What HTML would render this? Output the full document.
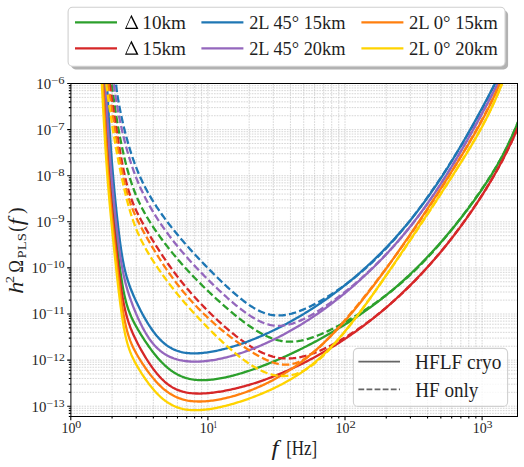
<!DOCTYPE html><html><head><meta charset="utf-8"><style>html,body{margin:0;padding:0;background:#fff;width:524px;height:467px;overflow:hidden}svg{display:block}text{font-family:"Liberation Serif",serif;fill:#1e1e1e}</style></head><body>
<svg width="524" height="467" viewBox="0 0 524 467">
<rect width="524" height="467" fill="#fff"/>
<path d="M112.07,83.50V416.50M136.21,83.50V416.50M153.34,83.50V416.50M166.63,83.50V416.50M177.48,83.50V416.50M186.66,83.50V416.50M194.61,83.50V416.50M201.63,83.50V416.50M207.90,83.50V416.50M249.17,83.50V416.50M273.31,83.50V416.50M290.44,83.50V416.50M303.73,83.50V416.50M314.58,83.50V416.50M323.76,83.50V416.50M331.71,83.50V416.50M338.73,83.50V416.50M345.00,83.50V416.50M386.27,83.50V416.50M410.41,83.50V416.50M427.54,83.50V416.50M440.83,83.50V416.50M451.68,83.50V416.50M460.86,83.50V416.50M468.81,83.50V416.50M475.83,83.50V416.50M482.10,83.50V416.50M70.90,416.43H517.50M70.90,413.34H517.50M70.90,410.67H517.50M70.90,408.31H517.50M70.90,406.20H517.50M70.90,392.32H517.50M70.90,384.20H517.50M70.90,378.45H517.50M70.90,373.98H517.50M70.90,370.33H517.50M70.90,367.24H517.50M70.90,364.57H517.50M70.90,362.21H517.50M70.90,360.10H517.50M70.90,346.22H517.50M70.90,338.10H517.50M70.90,332.35H517.50M70.90,327.88H517.50M70.90,324.23H517.50M70.90,321.14H517.50M70.90,318.47H517.50M70.90,316.11H517.50M70.90,314.00H517.50M70.90,300.12H517.50M70.90,292.00H517.50M70.90,286.25H517.50M70.90,281.78H517.50M70.90,278.13H517.50M70.90,275.04H517.50M70.90,272.37H517.50M70.90,270.01H517.50M70.90,267.90H517.50M70.90,254.02H517.50M70.90,245.90H517.50M70.90,240.15H517.50M70.90,235.68H517.50M70.90,232.03H517.50M70.90,228.94H517.50M70.90,226.27H517.50M70.90,223.91H517.50M70.90,221.80H517.50M70.90,207.92H517.50M70.90,199.80H517.50M70.90,194.05H517.50M70.90,189.58H517.50M70.90,185.93H517.50M70.90,182.84H517.50M70.90,180.17H517.50M70.90,177.81H517.50M70.90,175.70H517.50M70.90,161.82H517.50M70.90,153.70H517.50M70.90,147.95H517.50M70.90,143.48H517.50M70.90,139.83H517.50M70.90,136.74H517.50M70.90,134.07H517.50M70.90,131.71H517.50M70.90,129.60H517.50M70.90,115.72H517.50M70.90,107.60H517.50M70.90,101.85H517.50M70.90,97.38H517.50M70.90,93.73H517.50M70.90,90.64H517.50M70.90,87.97H517.50M70.90,85.61H517.50" stroke="#b4b4b4" stroke-width="0.55" stroke-dasharray="1.6,1.1" fill="none"/>
<g fill="none" stroke-width="2.3" stroke-linecap="butt" stroke-linejoin="round" clip-path="url(#ax)">
<defs><clipPath id="ax"><rect x="70.90" y="83.50" width="446.60" height="333.00"/></clipPath></defs>
<path d="M103.65,75.69 L103.80,78.44 L103.95,81.18 L104.09,83.90 L104.24,86.61 L104.38,89.31 L104.53,91.98 L104.68,94.64 L104.82,97.29 L104.97,99.91 L105.12,102.51 L105.26,105.10 L105.41,107.66 L105.56,110.20 L105.70,112.71 L105.85,115.20 L105.99,117.67 L106.14,120.11 L106.29,122.53 L106.43,124.92 L106.58,127.29 L106.73,129.62 L106.87,131.93 L107.02,134.21 L107.16,136.46 L107.31,138.69 L107.46,140.88 L107.60,143.05 L107.75,145.18 L107.90,147.29 L108.04,149.37 L108.19,151.42 L108.33,153.45 L108.48,155.44 L108.63,157.41 L108.77,159.36 L108.92,161.27 L109.07,163.16 L109.21,165.03 L109.36,166.87 L109.50,168.69 L109.65,170.49 L109.80,172.26 L109.94,174.02 L110.09,175.75 L110.24,177.47 L110.38,179.16 L110.53,180.84 L110.68,182.50 L110.82,184.14 L110.97,185.77 L111.11,187.38 L111.26,188.98 L111.41,190.56 L111.55,192.13 L111.70,193.69 L111.85,195.24 L111.99,196.77 L112.14,198.30 L112.28,199.81 L112.43,201.31 L112.58,202.80 L112.72,204.29 L112.87,205.76 L113.02,207.23 L113.16,208.69 L113.31,210.13 L113.45,211.58 L113.60,213.01 L113.75,214.44 L113.89,215.85 L114.04,217.27 L114.33,220.07 L114.62,222.85 L114.92,225.60 L115.21,228.32 L115.50,231.02 L115.80,233.69 L116.09,236.33 L116.38,238.95 L116.67,241.54 L116.97,244.10 L117.26,246.63 L117.55,249.12 L117.84,251.59 L118.14,254.02 L118.43,256.42 L118.72,258.77 L119.01,261.09 L119.31,263.37 L119.60,265.60 L119.89,267.79 L120.18,269.93 L120.48,272.03 L120.77,274.07 L121.06,276.07 L121.35,278.01 L121.65,279.90 L121.94,281.74 L122.23,283.52 L122.52,285.24 L122.82,286.92 L123.11,288.53 L123.40,290.10 L123.69,291.60 L123.99,293.06 L124.28,294.46 L124.72,296.47 L125.16,298.37 L125.60,300.17 L126.04,301.87 L126.47,303.47 L126.91,304.99 L127.35,306.44 L127.79,307.81 L128.38,309.53 L128.96,311.16 L129.55,312.69 L130.13,314.14 L130.72,315.53 L131.30,316.86 L132.03,318.45 L132.76,319.97 L133.50,321.44 L134.23,322.86 L134.96,324.24 L135.69,325.59 L136.42,326.90 L137.15,328.19 L137.88,329.46 L138.62,330.71 L139.35,331.93 L140.23,333.38 L141.10,334.81 L141.98,336.21 L142.86,337.59 L143.74,338.96 L144.61,340.30 L145.49,341.62 L146.37,342.93 L147.25,344.21 L148.13,345.47 L149.00,346.72 L149.88,347.94 L150.76,349.14 L151.64,350.32 L152.51,351.48 L153.39,352.62 L154.27,353.74 L155.29,355.01 L156.32,356.26 L157.34,357.47 L158.37,358.65 L159.39,359.79 L160.41,360.91 L161.44,361.99 L162.46,363.03 L163.49,364.05 L164.51,365.03 L165.68,366.10 L166.85,367.13 L168.02,368.12 L169.19,369.06 L170.36,369.96 L171.53,370.81 L172.70,371.62 L174.02,372.48 L175.33,373.28 L176.65,374.04 L177.97,374.74 L179.28,375.39 L180.60,375.99 L181.92,376.54 L183.38,377.10 L184.84,377.61 L186.31,378.06 L187.77,378.46 L189.23,378.81 L190.70,379.12 L192.16,379.39 L193.62,379.61 L195.08,379.79 L196.55,379.94 L198.01,380.05 L199.47,380.12 L200.94,380.16 L202.40,380.18 L203.86,380.16 L205.32,380.12 L206.79,380.05 L208.25,379.95 L209.71,379.84 L211.18,379.70 L212.64,379.54 L214.10,379.35 L215.56,379.15 L217.03,378.94 L218.49,378.70 L219.95,378.45 L221.42,378.18 L222.88,377.90 L224.34,377.60 L225.80,377.29 L227.27,376.96 L228.73,376.62 L230.19,376.27 L231.66,375.91 L233.12,375.53 L234.58,375.15 L236.04,374.75 L237.51,374.34 L238.97,373.92 L240.43,373.49 L241.90,373.06 L243.36,372.61 L244.82,372.15 L246.28,371.68 L247.75,371.21 L249.21,370.72 L250.67,370.23 L252.14,369.73 L253.60,369.22 L255.06,368.71 L256.53,368.18 L257.99,367.65 L259.45,367.11 L260.91,366.56 L262.38,366.01 L263.84,365.44 L265.30,364.88 L266.62,364.36 L267.94,363.83 L269.25,363.30 L270.57,362.77 L271.89,362.23 L273.20,361.68 L274.52,361.13 L275.84,360.58 L277.15,360.01 L278.47,359.45 L279.78,358.88 L281.10,358.30 L282.42,357.72 L283.73,357.13 L285.05,356.54 L286.37,355.94 L287.68,355.34 L289.00,354.74 L290.32,354.12 L291.63,353.51 L292.95,352.89 L294.27,352.26 L295.58,351.63 L296.90,351.00 L298.22,350.36 L299.53,349.72 L300.85,349.07 L302.17,348.41 L303.48,347.76 L304.80,347.09 L306.12,346.42 L307.43,345.75 L308.75,345.08 L310.07,344.39 L311.38,343.71 L312.70,343.02 L314.02,342.32 L315.33,341.62 L316.65,340.91 L317.97,340.20 L319.28,339.49 L320.60,338.77 L321.92,338.04 L323.23,337.31 L324.55,336.58 L325.87,335.84 L327.18,335.09 L328.50,334.34 L329.82,333.58 L331.13,332.82 L332.45,332.06 L333.77,331.28 L335.08,330.51 L336.40,329.72 L337.72,328.93 L339.03,328.14 L340.35,327.34 L341.67,326.53 L342.98,325.72 L344.30,324.90 L345.61,324.08 L346.93,323.25 L348.25,322.41 L349.56,321.57 L350.88,320.72 L352.20,319.86 L353.51,319.00 L354.83,318.13 L356.15,317.25 L357.46,316.37 L358.78,315.48 L359.95,314.68 L361.12,313.88 L362.29,313.07 L363.46,312.25 L364.63,311.43 L365.80,310.61 L366.97,309.77 L368.14,308.93 L369.31,308.09 L370.48,307.24 L371.65,306.38 L372.82,305.52 L373.99,304.65 L375.17,303.77 L376.34,302.89 L377.51,302.00 L378.68,301.10 L379.85,300.20 L381.02,299.29 L382.19,298.37 L383.36,297.44 L384.53,296.51 L385.70,295.58 L386.87,294.63 L388.04,293.68 L389.21,292.72 L390.38,291.75 L391.55,290.77 L392.72,289.79 L393.89,288.80 L395.06,287.80 L396.23,286.80 L397.40,285.79 L398.57,284.76 L399.74,283.74 L400.91,282.70 L402.08,281.65 L403.25,280.60 L404.42,279.54 L405.59,278.47 L406.76,277.40 L407.93,276.31 L409.10,275.22 L410.27,274.12 L411.44,273.01 L412.47,272.03 L413.49,271.04 L414.52,270.05 L415.54,269.06 L416.56,268.05 L417.59,267.04 L418.61,266.03 L419.64,265.00 L420.66,263.97 L421.69,262.94 L422.71,261.89 L423.73,260.84 L424.76,259.79 L425.78,258.72 L426.81,257.65 L427.83,256.58 L428.85,255.49 L429.88,254.40 L430.90,253.31 L431.93,252.20 L432.95,251.09 L433.97,249.98 L435.00,248.85 L436.02,247.72 L437.05,246.58 L438.07,245.44 L439.09,244.29 L440.12,243.13 L441.14,241.97 L442.17,240.79 L443.19,239.61 L444.21,238.43 L445.24,237.24 L446.26,236.04 L447.29,234.83 L448.31,233.61 L449.33,232.39 L450.36,231.17 L451.38,229.93 L452.41,228.69 L453.43,227.44 L454.45,226.18 L455.48,224.92 L456.50,223.65 L457.53,222.37 L458.55,221.08 L459.57,219.79 L460.45,218.67 L461.33,217.55 L462.21,216.43 L463.08,215.29 L463.96,214.16 L464.84,213.01 L465.72,211.86 L466.60,210.71 L467.47,209.55 L468.35,208.38 L469.23,207.21 L470.11,206.03 L470.98,204.84 L471.86,203.65 L472.74,202.45 L473.62,201.24 L474.50,200.03 L475.37,198.80 L476.25,197.58 L477.13,196.34 L478.01,195.09 L478.88,193.84 L479.76,192.58 L480.64,191.31 L481.52,190.03 L482.39,188.75 L483.27,187.45 L484.15,186.14 L485.03,184.82 L485.91,183.49 L486.78,182.15 L487.66,180.80 L488.54,179.44 L489.42,178.06 L490.29,176.67 L491.17,175.27 L492.05,173.85 L492.93,172.42 L493.81,170.97 L494.54,169.75 L495.27,168.52 L496.00,167.28 L496.73,166.02 L497.46,164.75 L498.19,163.47 L498.93,162.17 L499.66,160.86 L500.39,159.53 L501.12,158.19 L501.85,156.84 L502.58,155.46 L503.31,154.07 L504.05,152.66 L504.78,151.24 L505.51,149.79 L506.24,148.33 L506.97,146.84 L507.70,145.34 L508.43,143.82 L509.17,142.28 L509.90,140.71 L510.63,139.13 L511.36,137.53 L511.95,136.23 L512.53,134.91 L513.12,133.58 L513.70,132.24 L514.29,130.89 L514.87,129.52 L515.46,128.13 L516.04,126.73 L516.63,125.32 L517.21,123.89 L517.80,122.45 L518.38,121.00 L518.97,119.53 L519.55,118.05 L520.14,116.55 L520.72,115.04 L521.31,113.51 L521.89,111.98 L522.48,110.43 L523.06,108.86 L523.65,107.29 L524.23,105.70 L524.82,104.09 L525.40,102.48 L525.40,102.48" stroke="#2ca02c"/>
<path d="M111.85,84.44 L112.14,86.73 L112.43,88.99 L112.72,91.23 L113.02,93.43 L113.31,95.60 L113.60,97.74 L113.89,99.84 L114.19,101.92 L114.48,103.97 L114.77,105.98 L115.06,107.97 L115.36,109.92 L115.65,111.85 L115.94,113.74 L116.23,115.60 L116.53,117.44 L116.82,119.24 L117.11,121.02 L117.40,122.77 L117.70,124.49 L117.99,126.19 L118.28,127.86 L118.57,129.50 L118.87,131.12 L119.16,132.71 L119.45,134.29 L119.75,135.83 L120.04,137.36 L120.33,138.86 L120.62,140.34 L120.92,141.80 L121.21,143.24 L121.50,144.66 L121.79,146.05 L122.23,148.12 L122.67,150.13 L123.11,152.11 L123.55,154.05 L123.99,155.95 L124.43,157.81 L124.87,159.64 L125.30,161.42 L125.74,163.17 L126.18,164.89 L126.62,166.57 L127.06,168.22 L127.50,169.83 L127.94,171.41 L128.38,172.96 L128.81,174.48 L129.25,175.96 L129.69,177.42 L130.13,178.84 L130.57,180.23 L131.01,181.60 L131.59,183.37 L132.18,185.09 L132.76,186.77 L133.35,188.39 L133.94,189.98 L134.52,191.52 L135.11,193.01 L135.69,194.47 L136.28,195.89 L136.86,197.27 L137.45,198.62 L138.03,199.94 L138.76,201.54 L139.49,203.10 L140.23,204.62 L140.96,206.09 L141.69,207.53 L142.42,208.94 L143.15,210.31 L143.88,211.66 L144.61,212.98 L145.35,214.27 L146.08,215.55 L146.81,216.80 L147.54,218.03 L148.27,219.24 L149.15,220.67 L150.03,222.08 L150.90,223.46 L151.78,224.83 L152.66,226.18 L153.54,227.51 L154.42,228.82 L155.29,230.12 L156.17,231.40 L157.05,232.66 L157.93,233.92 L158.80,235.16 L159.68,236.38 L160.56,237.60 L161.44,238.80 L162.32,239.99 L163.19,241.17 L164.07,242.34 L164.95,243.50 L165.83,244.65 L166.70,245.78 L167.58,246.91 L168.46,248.03 L169.48,249.32 L170.51,250.60 L171.53,251.87 L172.56,253.12 L173.58,254.36 L174.60,255.60 L175.63,256.82 L176.65,258.03 L177.68,259.22 L178.70,260.41 L179.72,261.59 L180.75,262.76 L181.77,263.92 L182.80,265.07 L183.82,266.21 L184.84,267.34 L185.87,268.47 L186.89,269.58 L187.92,270.69 L188.94,271.79 L189.96,272.88 L190.99,273.97 L192.01,275.05 L193.04,276.12 L194.06,277.18 L195.08,278.23 L196.11,279.28 L197.13,280.33 L198.16,281.37 L199.18,282.40 L200.20,283.42 L201.23,284.44 L202.25,285.45 L203.28,286.46 L204.30,287.46 L205.32,288.46 L206.35,289.45 L207.37,290.44 L208.40,291.42 L209.57,292.53 L210.74,293.64 L211.91,294.74 L213.08,295.83 L214.25,296.92 L215.42,298.00 L216.59,299.08 L217.76,300.14 L218.93,301.20 L220.10,302.26 L221.27,303.30 L222.44,304.34 L223.61,305.38 L224.78,306.40 L225.95,307.42 L227.12,308.44 L228.29,309.44 L229.46,310.44 L230.63,311.43 L231.80,312.41 L232.97,313.38 L234.14,314.34 L235.31,315.30 L236.48,316.25 L237.65,317.18 L238.82,318.11 L239.99,319.03 L241.16,319.93 L242.34,320.83 L243.51,321.72 L244.68,322.59 L245.85,323.45 L247.02,324.30 L248.19,325.14 L249.36,325.96 L250.53,326.77 L251.70,327.56 L253.01,328.44 L254.33,329.29 L255.65,330.13 L256.96,330.94 L258.28,331.73 L259.60,332.50 L260.91,333.24 L262.23,333.96 L263.55,334.65 L264.86,335.31 L266.18,335.94 L267.50,336.55 L268.81,337.12 L270.13,337.66 L271.59,338.23 L273.06,338.76 L274.52,339.24 L275.98,339.68 L277.44,340.08 L278.91,340.44 L280.37,340.75 L281.83,341.02 L283.30,341.25 L284.76,341.43 L286.22,341.56 L287.68,341.66 L289.15,341.70 L290.61,341.71 L292.07,341.68 L293.54,341.60 L295.00,341.49 L296.46,341.33 L297.92,341.14 L299.39,340.91 L300.85,340.65 L302.31,340.35 L303.78,340.02 L305.24,339.66 L306.70,339.27 L308.16,338.85 L309.63,338.40 L311.09,337.93 L312.55,337.44 L314.02,336.92 L315.48,336.37 L316.94,335.81 L318.26,335.29 L319.58,334.75 L320.89,334.20 L322.21,333.63 L323.53,333.05 L324.84,332.46 L326.16,331.85 L327.48,331.23 L328.79,330.60 L330.11,329.97 L331.42,329.32 L332.74,328.66 L334.06,327.99 L335.37,327.31 L336.69,326.62 L338.01,325.93 L339.32,325.23 L340.64,324.51 L341.96,323.79 L343.27,323.07 L344.59,322.33 L345.91,321.59 L347.22,320.84 L348.54,320.08 L349.86,319.31 L351.17,318.54 L352.49,317.76 L353.81,316.97 L355.12,316.18 L356.44,315.38 L357.76,314.57 L359.07,313.75 L360.39,312.93 L361.71,312.10 L363.02,311.26 L364.34,310.41 L365.66,309.56 L366.97,308.70 L368.29,307.82 L369.61,306.95 L370.92,306.06 L372.09,305.26 L373.26,304.46 L374.43,303.65 L375.60,302.84 L376.77,302.01 L377.94,301.18 L379.11,300.34 L380.29,299.50 L381.46,298.64 L382.63,297.78 L383.80,296.91 L384.97,296.04 L386.14,295.15 L387.31,294.26 L388.48,293.36 L389.65,292.44 L390.82,291.52 L391.99,290.60 L393.16,289.66 L394.33,288.71 L395.50,287.75 L396.67,286.79 L397.84,285.81 L399.01,284.83 L400.18,283.83 L401.35,282.83 L402.52,281.81 L403.69,280.79 L404.86,279.75 L406.03,278.71 L407.20,277.65 L408.37,276.58 L409.54,275.51 L410.71,274.42 L411.88,273.32 L413.05,272.21 L414.08,271.23 L415.10,270.24 L416.13,269.24 L417.15,268.24 L418.17,267.22 L419.20,266.20 L420.22,265.17 L421.25,264.13 L422.27,263.08 L423.29,262.03 L424.32,260.96 L425.34,259.89 L426.37,258.81 L427.39,257.72 L428.41,256.62 L429.44,255.52 L430.46,254.40 L431.49,253.28 L432.51,252.15 L433.53,251.01 L434.56,249.87 L435.58,248.71 L436.61,247.55 L437.63,246.38 L438.65,245.20 L439.68,244.01 L440.70,242.82 L441.73,241.62 L442.75,240.41 L443.77,239.19 L444.80,237.97 L445.82,236.74 L446.85,235.50 L447.87,234.26 L448.89,233.00 L449.92,231.75 L450.94,230.48 L451.97,229.21 L452.99,227.93 L454.01,226.64 L455.04,225.35 L455.92,224.23 L456.79,223.11 L457.67,221.99 L458.55,220.86 L459.43,219.73 L460.31,218.59 L461.18,217.45 L462.06,216.30 L462.94,215.15 L463.82,213.99 L464.69,212.83 L465.57,211.66 L466.45,210.49 L467.33,209.32 L468.20,208.13 L469.08,206.95 L469.96,205.76 L470.84,204.56 L471.72,203.36 L472.59,202.15 L473.47,200.94 L474.35,199.72 L475.23,198.50 L476.10,197.27 L476.98,196.04 L477.86,194.80 L478.74,193.55 L479.62,192.30 L480.49,191.03 L481.37,189.77 L482.25,188.49 L483.13,187.21 L484.00,185.91 L484.88,184.61 L485.76,183.30 L486.64,181.98 L487.51,180.65 L488.39,179.31 L489.27,177.96 L490.15,176.60 L491.03,175.22 L491.90,173.83 L492.78,172.43 L493.66,171.01 L494.54,169.57 L495.41,168.12 L496.15,166.90 L496.88,165.66 L497.61,164.41 L498.34,163.15 L499.07,161.88 L499.80,160.58 L500.53,159.28 L501.27,157.95 L502.00,156.61 L502.73,155.26 L503.46,153.88 L504.19,152.48 L504.92,151.07 L505.65,149.64 L506.39,148.18 L507.12,146.71 L507.85,145.21 L508.58,143.69 L509.31,142.15 L510.04,140.59 L510.77,139.00 L511.51,137.39 L512.09,136.08 L512.68,134.76 L513.26,133.42 L513.85,132.07 L514.43,130.70 L515.02,129.32 L515.60,127.92 L516.19,126.50 L516.77,125.07 L517.36,123.62 L517.94,122.16 L518.53,120.68 L519.11,119.19 L519.70,117.68 L520.28,116.16 L520.87,114.62 L521.45,113.06 L522.04,111.50 L522.62,109.91 L523.21,108.32 L523.79,106.71 L524.38,105.08 L524.96,103.45 L525.40,102.21" stroke="#2ca02c" stroke-dasharray="7.4,3.2"/>
<path d="M103.07,78.28 L103.21,81.38 L103.36,84.41 L103.51,87.39 L103.65,90.32 L103.80,93.21 L103.95,96.05 L104.09,98.84 L104.24,101.60 L104.38,104.32 L104.53,107.01 L104.68,109.66 L104.82,112.28 L104.97,114.87 L105.12,117.42 L105.26,119.94 L105.41,122.44 L105.56,124.90 L105.70,127.33 L105.85,129.73 L105.99,132.10 L106.14,134.44 L106.29,136.75 L106.43,139.04 L106.58,141.29 L106.73,143.51 L106.87,145.70 L107.02,147.87 L107.16,150.00 L107.31,152.11 L107.46,154.19 L107.60,156.24 L107.75,158.26 L107.90,160.26 L108.04,162.22 L108.19,164.17 L108.33,166.09 L108.48,167.98 L108.63,169.85 L108.77,171.70 L108.92,173.52 L109.07,175.33 L109.21,177.11 L109.36,178.87 L109.50,180.61 L109.65,182.34 L109.80,184.04 L109.94,185.73 L110.09,187.40 L110.24,189.06 L110.38,190.70 L110.53,192.33 L110.68,193.95 L110.82,195.55 L110.97,197.14 L111.11,198.71 L111.26,200.28 L111.41,201.83 L111.55,203.38 L111.70,204.91 L111.85,206.43 L111.99,207.95 L112.14,209.46 L112.28,210.96 L112.43,212.45 L112.58,213.93 L112.72,215.40 L112.87,216.87 L113.02,218.33 L113.16,219.78 L113.31,221.23 L113.45,222.67 L113.60,224.11 L113.75,225.53 L113.89,226.96 L114.04,228.37 L114.19,229.78 L114.48,232.58 L114.77,235.36 L115.06,238.11 L115.36,240.84 L115.65,243.54 L115.94,246.22 L116.23,248.87 L116.53,251.49 L116.82,254.09 L117.11,256.65 L117.40,259.18 L117.70,261.68 L117.99,264.15 L118.28,266.58 L118.57,268.97 L118.87,271.32 L119.16,273.63 L119.45,275.90 L119.75,278.12 L120.04,280.29 L120.33,282.42 L120.62,284.50 L120.92,286.53 L121.21,288.50 L121.50,290.43 L121.79,292.30 L122.09,294.11 L122.38,295.88 L122.67,297.59 L122.96,299.24 L123.26,300.85 L123.55,302.40 L123.84,303.90 L124.13,305.35 L124.43,306.75 L124.87,308.77 L125.30,310.68 L125.74,312.50 L126.18,314.23 L126.62,315.88 L127.06,317.45 L127.50,318.95 L127.94,320.39 L128.38,321.76 L128.96,323.52 L129.55,325.19 L130.13,326.78 L130.72,328.31 L131.30,329.79 L131.89,331.21 L132.47,332.59 L133.06,333.93 L133.64,335.23 L134.37,336.82 L135.11,338.36 L135.84,339.87 L136.57,341.34 L137.30,342.78 L138.03,344.20 L138.76,345.58 L139.49,346.95 L140.23,348.29 L140.96,349.61 L141.69,350.90 L142.42,352.18 L143.15,353.44 L143.88,354.68 L144.61,355.90 L145.49,357.34 L146.37,358.75 L147.25,360.14 L148.13,361.50 L149.00,362.83 L149.88,364.14 L150.76,365.42 L151.64,366.67 L152.51,367.89 L153.39,369.08 L154.27,370.24 L155.15,371.37 L156.17,372.66 L157.19,373.90 L158.22,375.10 L159.24,376.26 L160.27,377.37 L161.29,378.44 L162.32,379.47 L163.34,380.45 L164.51,381.52 L165.68,382.54 L166.85,383.49 L168.02,384.40 L169.19,385.25 L170.36,386.04 L171.68,386.88 L172.99,387.65 L174.31,388.36 L175.63,389.01 L176.94,389.60 L178.26,390.15 L179.72,390.69 L181.19,391.17 L182.65,391.60 L184.11,391.98 L185.57,392.30 L187.04,392.58 L188.50,392.82 L189.96,393.02 L191.43,393.19 L192.89,393.32 L194.35,393.42 L195.82,393.48 L197.28,393.52 L198.74,393.54 L200.20,393.53 L201.67,393.50 L203.13,393.45 L204.59,393.37 L206.06,393.28 L207.52,393.17 L208.98,393.05 L210.44,392.91 L211.91,392.75 L213.37,392.58 L214.83,392.39 L216.30,392.19 L217.76,391.98 L219.22,391.76 L220.68,391.52 L222.15,391.27 L223.61,391.01 L225.07,390.74 L226.54,390.46 L228.00,390.17 L229.46,389.87 L230.92,389.55 L232.39,389.23 L233.85,388.90 L235.31,388.56 L236.78,388.21 L238.24,387.84 L239.70,387.47 L241.16,387.09 L242.63,386.70 L244.09,386.31 L245.55,385.90 L247.02,385.48 L248.48,385.06 L249.94,384.62 L251.40,384.18 L252.87,383.73 L254.33,383.27 L255.79,382.80 L257.26,382.32 L258.72,381.84 L260.18,381.34 L261.65,380.84 L263.11,380.33 L264.57,379.81 L266.03,379.28 L267.50,378.74 L268.96,378.20 L270.42,377.65 L271.89,377.09 L273.35,376.52 L274.66,376.00 L275.98,375.47 L277.30,374.94 L278.61,374.40 L279.93,373.86 L281.25,373.30 L282.56,372.75 L283.88,372.18 L285.20,371.61 L286.51,371.03 L287.83,370.45 L289.15,369.86 L290.46,369.26 L291.78,368.66 L293.10,368.05 L294.41,367.44 L295.73,366.81 L297.05,366.19 L298.36,365.55 L299.68,364.91 L301.00,364.26 L302.31,363.61 L303.63,362.95 L304.95,362.29 L306.26,361.61 L307.58,360.93 L308.90,360.25 L310.21,359.56 L311.53,358.86 L312.85,358.15 L314.16,357.44 L315.48,356.73 L316.80,356.00 L318.11,355.27 L319.43,354.54 L320.75,353.79 L322.06,353.04 L323.38,352.29 L324.70,351.52 L326.01,350.75 L327.33,349.97 L328.65,349.19 L329.96,348.40 L331.28,347.60 L332.60,346.80 L333.91,345.99 L335.23,345.17 L336.54,344.34 L337.86,343.51 L339.18,342.67 L340.49,341.82 L341.81,340.97 L343.13,340.11 L344.44,339.24 L345.76,338.36 L347.08,337.48 L348.39,336.59 L349.56,335.79 L350.73,334.98 L351.91,334.17 L353.08,333.36 L354.25,332.53 L355.42,331.70 L356.59,330.87 L357.76,330.03 L358.93,329.18 L360.10,328.32 L361.27,327.46 L362.44,326.60 L363.61,325.72 L364.78,324.84 L365.95,323.95 L367.12,323.06 L368.29,322.16 L369.46,321.26 L370.63,320.34 L371.80,319.42 L372.97,318.50 L374.14,317.56 L375.31,316.62 L376.48,315.67 L377.65,314.72 L378.82,313.76 L379.99,312.79 L381.16,311.82 L382.33,310.84 L383.50,309.85 L384.67,308.85 L385.84,307.85 L387.01,306.84 L388.18,305.82 L389.36,304.79 L390.53,303.76 L391.70,302.72 L392.87,301.67 L394.04,300.62 L395.21,299.56 L396.38,298.49 L397.55,297.41 L398.72,296.33 L399.89,295.24 L401.06,294.14 L402.23,293.03 L403.40,291.91 L404.42,290.93 L405.45,289.94 L406.47,288.95 L407.50,287.95 L408.52,286.94 L409.54,285.93 L410.57,284.91 L411.59,283.89 L412.62,282.85 L413.64,281.82 L414.66,280.77 L415.69,279.72 L416.71,278.67 L417.74,277.60 L418.76,276.53 L419.78,275.46 L420.81,274.37 L421.83,273.28 L422.86,272.19 L423.88,271.09 L424.90,269.98 L425.93,268.86 L426.95,267.73 L427.98,266.60 L429.00,265.47 L430.02,264.32 L431.05,263.17 L432.07,262.01 L433.10,260.85 L434.12,259.67 L435.14,258.49 L436.17,257.30 L437.19,256.11 L438.22,254.90 L439.24,253.69 L440.26,252.47 L441.29,251.25 L442.31,250.01 L443.34,248.77 L444.36,247.52 L445.38,246.26 L446.41,245.00 L447.43,243.72 L448.46,242.44 L449.48,241.15 L450.36,240.04 L451.24,238.92 L452.11,237.79 L452.99,236.66 L453.87,235.52 L454.75,234.38 L455.62,233.23 L456.50,232.07 L457.38,230.91 L458.26,229.74 L459.13,228.56 L460.01,227.38 L460.89,226.19 L461.77,224.99 L462.65,223.79 L463.52,222.58 L464.40,221.36 L465.28,220.13 L466.16,218.90 L467.03,217.66 L467.91,216.42 L468.79,215.16 L469.67,213.90 L470.55,212.63 L471.42,211.36 L472.30,210.07 L473.18,208.78 L474.06,207.48 L474.93,206.17 L475.81,204.86 L476.69,203.54 L477.57,202.20 L478.45,200.86 L479.32,199.51 L480.20,198.16 L481.08,196.79 L481.96,195.42 L482.83,194.03 L483.71,192.64 L484.59,191.23 L485.47,189.82 L486.34,188.40 L487.22,186.96 L488.10,185.52 L488.83,184.31 L489.56,183.09 L490.29,181.86 L491.03,180.62 L491.76,179.38 L492.49,178.13 L493.22,176.87 L493.95,175.60 L494.68,174.32 L495.41,173.04 L496.15,171.74 L496.88,170.44 L497.61,169.12 L498.34,167.80 L499.07,166.46 L499.80,165.11 L500.53,163.76 L501.27,162.39 L502.00,161.01 L502.73,159.62 L503.46,158.22 L504.19,156.80 L504.92,155.38 L505.65,153.94 L506.39,152.49 L507.12,151.02 L507.85,149.54 L508.58,148.05 L509.31,146.54 L510.04,145.02 L510.77,143.48 L511.51,141.93 L512.24,140.37 L512.97,138.79 L513.70,137.19 L514.29,135.90 L514.87,134.60 L515.46,133.29 L516.04,131.97 L516.63,130.64 L517.21,129.30 L517.80,127.95 L518.38,126.58 L518.97,125.21 L519.55,123.82 L520.14,122.43 L520.72,121.02 L521.31,119.60 L521.89,118.17 L522.48,116.74 L523.06,115.28 L523.65,113.82 L524.23,112.35 L524.82,110.87 L525.40,109.37 L525.40,109.37" stroke="#d62728"/>
<path d="M109.80,84.08 L110.09,86.16 L110.38,88.23 L110.68,90.29 L110.97,92.34 L111.26,94.39 L111.55,96.43 L111.85,98.45 L112.14,100.47 L112.43,102.48 L112.72,104.49 L113.02,106.48 L113.31,108.47 L113.60,110.44 L113.89,112.41 L114.19,114.37 L114.48,116.32 L114.77,118.26 L115.06,120.18 L115.36,122.10 L115.65,124.01 L115.94,125.91 L116.23,127.79 L116.53,129.67 L116.82,131.53 L117.11,133.38 L117.40,135.22 L117.70,137.04 L117.99,138.85 L118.28,140.65 L118.57,142.43 L118.87,144.19 L119.16,145.94 L119.45,147.67 L119.75,149.38 L120.04,151.08 L120.33,152.75 L120.62,154.41 L120.92,156.05 L121.21,157.67 L121.50,159.26 L121.79,160.84 L122.09,162.39 L122.38,163.92 L122.67,165.42 L122.96,166.90 L123.26,168.36 L123.55,169.79 L123.84,171.20 L124.28,173.27 L124.72,175.27 L125.16,177.22 L125.60,179.11 L126.04,180.94 L126.47,182.71 L126.91,184.43 L127.35,186.09 L127.79,187.69 L128.23,189.24 L128.67,190.74 L129.11,192.19 L129.55,193.59 L129.99,194.95 L130.57,196.69 L131.16,198.36 L131.74,199.96 L132.33,201.50 L132.91,202.99 L133.50,204.43 L134.08,205.82 L134.67,207.17 L135.25,208.48 L135.98,210.07 L136.71,211.62 L137.45,213.13 L138.18,214.60 L138.91,216.05 L139.64,217.46 L140.37,218.86 L141.10,220.23 L141.83,221.58 L142.57,222.92 L143.30,224.24 L144.03,225.55 L144.76,226.85 L145.49,228.14 L146.22,229.41 L146.95,230.68 L147.69,231.93 L148.42,233.18 L149.15,234.42 L149.88,235.65 L150.61,236.87 L151.34,238.09 L152.22,239.54 L153.10,240.97 L153.98,242.40 L154.85,243.81 L155.73,245.22 L156.61,246.61 L157.49,247.99 L158.37,249.36 L159.24,250.72 L160.12,252.07 L161.00,253.41 L161.88,254.74 L162.75,256.06 L163.63,257.37 L164.51,258.66 L165.39,259.95 L166.26,261.22 L167.14,262.49 L168.02,263.74 L168.90,264.98 L169.78,266.22 L170.65,267.44 L171.53,268.65 L172.41,269.85 L173.29,271.04 L174.16,272.22 L175.04,273.39 L175.92,274.54 L176.80,275.69 L177.68,276.83 L178.55,277.96 L179.43,279.08 L180.31,280.19 L181.33,281.47 L182.36,282.74 L183.38,284.00 L184.40,285.25 L185.43,286.48 L186.45,287.70 L187.48,288.91 L188.50,290.11 L189.52,291.30 L190.55,292.47 L191.57,293.64 L192.60,294.79 L193.62,295.94 L194.64,297.08 L195.67,298.20 L196.69,299.32 L197.72,300.42 L198.74,301.52 L199.76,302.61 L200.79,303.69 L201.81,304.76 L202.84,305.82 L203.86,306.87 L204.89,307.92 L205.91,308.96 L206.93,309.99 L207.96,311.01 L208.98,312.02 L210.01,313.03 L211.03,314.02 L212.05,315.02 L213.08,316.00 L214.10,316.97 L215.27,318.08 L216.44,319.18 L217.61,320.26 L218.78,321.34 L219.95,322.41 L221.12,323.47 L222.29,324.51 L223.46,325.55 L224.63,326.58 L225.80,327.60 L226.97,328.61 L228.14,329.60 L229.32,330.59 L230.49,331.57 L231.66,332.53 L232.83,333.49 L234.00,334.43 L235.17,335.36 L236.34,336.28 L237.51,337.19 L238.68,338.08 L239.85,338.96 L241.02,339.83 L242.19,340.68 L243.36,341.52 L244.53,342.34 L245.70,343.15 L247.02,344.05 L248.33,344.92 L249.65,345.77 L250.97,346.60 L252.28,347.40 L253.60,348.19 L254.92,348.95 L256.23,349.68 L257.55,350.39 L258.87,351.07 L260.18,351.73 L261.50,352.36 L262.82,352.96 L264.13,353.53 L265.45,354.08 L266.91,354.65 L268.37,355.18 L269.84,355.67 L271.30,356.12 L272.76,356.54 L274.23,356.91 L275.69,357.25 L277.15,357.54 L278.61,357.80 L280.08,358.02 L281.54,358.19 L283.00,358.33 L284.47,358.42 L285.93,358.48 L287.39,358.50 L288.85,358.48 L290.32,358.42 L291.78,358.33 L293.24,358.20 L294.71,358.03 L296.17,357.84 L297.63,357.61 L299.10,357.34 L300.56,357.05 L302.02,356.73 L303.48,356.37 L304.95,355.99 L306.41,355.58 L307.87,355.15 L309.34,354.69 L310.80,354.20 L312.26,353.69 L313.72,353.16 L315.19,352.61 L316.50,352.09 L317.82,351.56 L319.14,351.01 L320.45,350.44 L321.77,349.86 L323.09,349.27 L324.40,348.66 L325.72,348.04 L327.04,347.40 L328.35,346.75 L329.67,346.09 L330.99,345.41 L332.30,344.73 L333.62,344.03 L334.94,343.32 L336.25,342.59 L337.57,341.86 L338.89,341.11 L340.20,340.36 L341.52,339.59 L342.84,338.81 L344.15,338.02 L345.47,337.23 L346.79,336.42 L348.10,335.60 L349.42,334.77 L350.73,333.93 L352.05,333.08 L353.37,332.22 L354.68,331.35 L356.00,330.47 L357.32,329.58 L358.49,328.78 L359.66,327.98 L360.83,327.16 L362.00,326.34 L363.17,325.51 L364.34,324.68 L365.51,323.83 L366.68,322.98 L367.85,322.12 L369.02,321.25 L370.19,320.37 L371.36,319.49 L372.53,318.60 L373.70,317.70 L374.87,316.79 L376.04,315.87 L377.21,314.95 L378.38,314.02 L379.55,313.08 L380.72,312.13 L381.89,311.18 L383.06,310.21 L384.24,309.24 L385.41,308.26 L386.58,307.27 L387.75,306.28 L388.92,305.27 L390.09,304.26 L391.26,303.24 L392.43,302.21 L393.60,301.17 L394.77,300.12 L395.94,299.07 L397.11,298.00 L398.28,296.93 L399.45,295.85 L400.62,294.76 L401.79,293.66 L402.96,292.55 L403.98,291.58 L405.01,290.59 L406.03,289.60 L407.06,288.61 L408.08,287.60 L409.10,286.59 L410.13,285.58 L411.15,284.55 L412.18,283.52 L413.20,282.48 L414.22,281.44 L415.25,280.39 L416.27,279.33 L417.30,278.26 L418.32,277.19 L419.34,276.11 L420.37,275.02 L421.39,273.93 L422.42,272.83 L423.44,271.72 L424.46,270.60 L425.49,269.48 L426.51,268.35 L427.54,267.21 L428.56,266.06 L429.58,264.91 L430.61,263.75 L431.63,262.58 L432.66,261.41 L433.68,260.22 L434.70,259.03 L435.73,257.84 L436.75,256.63 L437.78,255.42 L438.80,254.20 L439.82,252.97 L440.85,251.74 L441.87,250.49 L442.90,249.24 L443.92,247.98 L444.94,246.72 L445.97,245.44 L446.99,244.16 L448.02,242.87 L448.89,241.76 L449.77,240.64 L450.65,239.52 L451.53,238.39 L452.41,237.25 L453.28,236.11 L454.16,234.96 L455.04,233.81 L455.92,232.65 L456.79,231.49 L457.67,230.31 L458.55,229.14 L459.43,227.95 L460.31,226.76 L461.18,225.57 L462.06,224.37 L462.94,223.16 L463.82,221.94 L464.69,220.72 L465.57,219.50 L466.45,218.26 L467.33,217.02 L468.20,215.77 L469.08,214.52 L469.96,213.26 L470.84,211.99 L471.72,210.72 L472.59,209.44 L473.47,208.15 L474.35,206.85 L475.23,205.55 L476.10,204.24 L476.98,202.92 L477.86,201.60 L478.74,200.26 L479.62,198.92 L480.49,197.57 L481.37,196.21 L482.25,194.85 L483.13,193.47 L484.00,192.09 L484.88,190.69 L485.76,189.29 L486.64,187.87 L487.51,186.45 L488.39,185.02 L489.27,183.57 L490.00,182.36 L490.73,181.14 L491.46,179.91 L492.20,178.67 L492.93,177.43 L493.66,176.17 L494.39,174.91 L495.12,173.64 L495.85,172.36 L496.58,171.06 L497.32,169.76 L498.05,168.45 L498.78,167.13 L499.51,165.79 L500.24,164.45 L500.97,163.09 L501.70,161.72 L502.44,160.34 L503.17,158.94 L503.90,157.53 L504.63,156.11 L505.36,154.68 L506.09,153.23 L506.83,151.76 L507.56,150.28 L508.29,148.79 L509.02,147.28 L509.75,145.76 L510.48,144.21 L511.21,142.66 L511.95,141.08 L512.68,139.49 L513.41,137.88 L513.99,136.58 L514.58,135.27 L515.16,133.95 L515.75,132.61 L516.33,131.27 L516.92,129.91 L517.50,128.54 L518.09,127.16 L518.67,125.77 L519.26,124.36 L519.84,122.95 L520.43,121.52 L521.02,120.08 L521.60,118.62 L522.19,117.16 L522.77,115.68 L523.36,114.19 L523.94,112.69 L524.53,111.18 L525.11,109.66 L525.40,108.89" stroke="#d62728" stroke-dasharray="7.4,3.2"/>
<path d="M106.58,76.00 L106.73,78.81 L106.87,81.59 L107.02,84.35 L107.16,87.08 L107.31,89.80 L107.46,92.48 L107.60,95.15 L107.75,97.79 L107.90,100.41 L108.04,103.00 L108.19,105.57 L108.33,108.12 L108.48,110.64 L108.63,113.13 L108.77,115.60 L108.92,118.04 L109.07,120.46 L109.21,122.85 L109.36,125.21 L109.50,127.55 L109.65,129.85 L109.80,132.13 L109.94,134.38 L110.09,136.60 L110.24,138.79 L110.38,140.96 L110.53,143.09 L110.68,145.20 L110.82,147.28 L110.97,149.33 L111.11,151.36 L111.26,153.35 L111.41,155.32 L111.55,157.27 L111.70,159.18 L111.85,161.08 L111.99,162.94 L112.14,164.79 L112.28,166.61 L112.43,168.41 L112.58,170.19 L112.72,171.94 L112.87,173.68 L113.02,175.39 L113.16,177.09 L113.31,178.76 L113.45,180.42 L113.60,182.07 L113.75,183.69 L113.89,185.30 L114.04,186.90 L114.19,188.47 L114.33,190.04 L114.48,191.59 L114.62,193.13 L114.77,194.65 L114.92,196.16 L115.06,197.66 L115.21,199.15 L115.36,200.62 L115.50,202.09 L115.65,203.54 L115.80,204.98 L115.94,206.41 L116.09,207.83 L116.23,209.23 L116.53,212.02 L116.82,214.76 L117.11,217.46 L117.40,220.11 L117.70,222.72 L117.99,225.29 L118.28,227.81 L118.57,230.28 L118.87,232.70 L119.16,235.08 L119.45,237.40 L119.75,239.66 L120.04,241.87 L120.33,244.03 L120.62,246.12 L120.92,248.16 L121.21,250.14 L121.50,252.06 L121.79,253.91 L122.09,255.71 L122.38,257.44 L122.67,259.12 L122.96,260.74 L123.26,262.29 L123.55,263.80 L123.84,265.24 L124.13,266.64 L124.57,268.64 L125.01,270.53 L125.45,272.33 L125.89,274.03 L126.33,275.65 L126.77,277.20 L127.21,278.67 L127.64,280.09 L128.08,281.46 L128.67,283.20 L129.25,284.87 L129.84,286.47 L130.42,288.03 L131.01,289.53 L131.59,290.99 L132.18,292.42 L132.76,293.81 L133.35,295.18 L133.94,296.52 L134.52,297.84 L135.11,299.14 L135.84,300.73 L136.57,302.30 L137.30,303.84 L138.03,305.35 L138.76,306.84 L139.49,308.30 L140.23,309.74 L140.96,311.16 L141.69,312.55 L142.42,313.92 L143.15,315.26 L143.88,316.59 L144.61,317.89 L145.35,319.16 L146.08,320.41 L146.81,321.64 L147.69,323.08 L148.56,324.49 L149.44,325.86 L150.32,327.19 L151.20,328.49 L152.07,329.75 L152.95,330.97 L153.83,332.16 L154.71,333.31 L155.59,334.42 L156.61,335.67 L157.63,336.87 L158.66,338.02 L159.68,339.12 L160.71,340.16 L161.73,341.16 L162.90,342.24 L164.07,343.26 L165.24,344.21 L166.41,345.10 L167.58,345.94 L168.90,346.81 L170.21,347.61 L171.53,348.35 L172.85,349.02 L174.16,349.63 L175.48,350.18 L176.94,350.73 L178.41,351.22 L179.87,351.64 L181.33,352.01 L182.80,352.33 L184.26,352.60 L185.72,352.83 L187.18,353.01 L188.65,353.15 L190.11,353.26 L191.57,353.33 L193.04,353.37 L194.50,353.38 L195.96,353.36 L197.42,353.32 L198.89,353.25 L200.35,353.15 L201.81,353.03 L203.28,352.89 L204.74,352.73 L206.20,352.55 L207.66,352.35 L209.13,352.14 L210.59,351.91 L212.05,351.66 L213.52,351.39 L214.98,351.11 L216.44,350.81 L217.90,350.50 L219.37,350.18 L220.83,349.84 L222.29,349.49 L223.76,349.12 L225.22,348.75 L226.68,348.36 L228.14,347.96 L229.61,347.54 L231.07,347.12 L232.53,346.68 L234.00,346.23 L235.46,345.77 L236.92,345.30 L238.39,344.82 L239.85,344.33 L241.31,343.83 L242.77,343.32 L244.24,342.80 L245.70,342.27 L247.16,341.73 L248.63,341.17 L250.09,340.61 L251.55,340.04 L252.87,339.52 L254.18,338.99 L255.50,338.46 L256.82,337.91 L258.13,337.36 L259.45,336.80 L260.77,336.24 L262.08,335.66 L263.40,335.08 L264.72,334.50 L266.03,333.90 L267.35,333.30 L268.67,332.69 L269.98,332.08 L271.30,331.45 L272.62,330.82 L273.93,330.19 L275.25,329.54 L276.57,328.89 L277.88,328.24 L279.20,327.57 L280.52,326.90 L281.83,326.22 L283.15,325.54 L284.47,324.85 L285.78,324.15 L287.10,323.44 L288.42,322.73 L289.73,322.01 L291.05,321.29 L292.37,320.55 L293.68,319.81 L295.00,319.07 L296.32,318.31 L297.63,317.55 L298.95,316.78 L300.27,316.01 L301.58,315.23 L302.90,314.44 L304.22,313.64 L305.53,312.84 L306.85,312.02 L308.16,311.21 L309.48,310.38 L310.80,309.55 L312.11,308.71 L313.43,307.86 L314.75,307.00 L316.06,306.14 L317.38,305.27 L318.70,304.39 L320.01,303.50 L321.18,302.71 L322.35,301.91 L323.53,301.10 L324.70,300.29 L325.87,299.47 L327.04,298.64 L328.21,297.81 L329.38,296.97 L330.55,296.13 L331.72,295.28 L332.89,294.42 L334.06,293.56 L335.23,292.68 L336.40,291.81 L337.57,290.92 L338.74,290.03 L339.91,289.13 L341.08,288.23 L342.25,287.32 L343.42,286.40 L344.59,285.47 L345.76,284.54 L346.93,283.60 L348.10,282.65 L349.27,281.70 L350.44,280.74 L351.61,279.77 L352.78,278.79 L353.95,277.81 L355.12,276.82 L356.29,275.82 L357.46,274.82 L358.63,273.80 L359.80,272.78 L360.98,271.75 L362.15,270.72 L363.32,269.67 L364.49,268.62 L365.66,267.56 L366.83,266.49 L368.00,265.42 L369.17,264.33 L370.34,263.24 L371.51,262.14 L372.68,261.03 L373.70,260.05 L374.73,259.07 L375.75,258.08 L376.77,257.08 L377.80,256.07 L378.82,255.06 L379.85,254.05 L380.87,253.02 L381.89,251.99 L382.92,250.95 L383.94,249.90 L384.97,248.85 L385.99,247.79 L387.01,246.72 L388.04,245.65 L389.06,244.56 L390.09,243.47 L391.11,242.38 L392.13,241.27 L393.16,240.16 L394.18,239.03 L395.21,237.90 L396.23,236.77 L397.25,235.62 L398.28,234.47 L399.30,233.30 L400.33,232.13 L401.35,230.95 L402.37,229.77 L403.40,228.57 L404.42,227.36 L405.45,226.15 L406.47,224.93 L407.50,223.69 L408.52,222.45 L409.54,221.20 L410.57,219.94 L411.59,218.67 L412.62,217.39 L413.64,216.10 L414.52,214.99 L415.39,213.87 L416.27,212.75 L417.15,211.61 L418.03,210.47 L418.91,209.32 L419.78,208.17 L420.66,207.01 L421.54,205.84 L422.42,204.66 L423.29,203.47 L424.17,202.28 L425.05,201.08 L425.93,199.87 L426.81,198.66 L427.68,197.44 L428.56,196.21 L429.44,194.97 L430.32,193.73 L431.19,192.47 L432.07,191.21 L432.95,189.95 L433.83,188.67 L434.70,187.39 L435.58,186.10 L436.46,184.80 L437.34,183.50 L438.22,182.18 L439.09,180.86 L439.97,179.54 L440.85,178.20 L441.73,176.86 L442.60,175.51 L443.48,174.15 L444.36,172.79 L445.24,171.42 L446.12,170.04 L446.99,168.65 L447.87,167.26 L448.75,165.86 L449.63,164.46 L450.50,163.04 L451.38,161.62 L452.26,160.20 L453.14,158.76 L454.01,157.32 L454.89,155.87 L455.62,154.66 L456.36,153.45 L457.09,152.23 L457.82,151.00 L458.55,149.78 L459.28,148.54 L460.01,147.30 L460.74,146.06 L461.48,144.82 L462.21,143.57 L462.94,142.31 L463.67,141.05 L464.40,139.79 L465.13,138.52 L465.86,137.25 L466.60,135.98 L467.33,134.70 L468.06,133.42 L468.79,132.13 L469.52,130.84 L470.25,129.55 L470.98,128.25 L471.72,126.95 L472.45,125.64 L473.18,124.33 L473.91,123.02 L474.64,121.71 L475.37,120.39 L476.10,119.06 L476.84,117.74 L477.57,116.41 L478.30,115.07 L479.03,113.73 L479.76,112.39 L480.49,111.05 L481.22,109.70 L481.96,108.35 L482.69,107.00 L483.42,105.64 L484.15,104.28 L484.88,102.91 L485.61,101.54 L486.34,100.17 L487.08,98.80 L487.81,97.42 L488.54,96.04 L489.27,94.65 L490.00,93.26 L490.73,91.87 L491.46,90.48 L492.20,89.08 L492.93,87.68 L493.66,86.27 L494.39,84.86 L495.12,83.45 L495.85,82.03 L496.58,80.61 L497.32,79.19 L498.05,77.76 L498.78,76.32 L499.07,75.75" stroke="#1f77b4"/>
<path d="M116.09,84.74 L116.38,87.39 L116.67,89.75 L116.97,91.91 L117.26,93.91 L117.55,95.81 L117.84,97.62 L118.14,99.37 L118.43,101.06 L118.72,102.71 L119.01,104.31 L119.31,105.88 L119.60,107.42 L119.89,108.93 L120.18,110.41 L120.48,111.86 L120.77,113.29 L121.06,114.69 L121.50,116.75 L121.94,118.77 L122.38,120.74 L122.82,122.68 L123.26,124.57 L123.69,126.42 L124.13,128.24 L124.57,130.02 L125.01,131.77 L125.45,133.49 L125.89,135.18 L126.33,136.84 L126.77,138.47 L127.21,140.07 L127.64,141.64 L128.08,143.18 L128.52,144.70 L128.96,146.20 L129.40,147.66 L129.84,149.11 L130.28,150.53 L130.72,151.92 L131.16,153.29 L131.59,154.64 L132.18,156.40 L132.76,158.12 L133.35,159.81 L133.94,161.46 L134.52,163.07 L135.11,164.65 L135.69,166.19 L136.28,167.70 L136.86,169.18 L137.45,170.62 L138.03,172.04 L138.62,173.43 L139.20,174.79 L139.79,176.13 L140.37,177.43 L141.10,179.04 L141.83,180.60 L142.57,182.13 L143.30,183.63 L144.03,185.10 L144.76,186.53 L145.49,187.94 L146.22,189.32 L146.95,190.68 L147.69,192.01 L148.42,193.33 L149.15,194.61 L149.88,195.88 L150.61,197.13 L151.34,198.36 L152.07,199.57 L152.95,201.01 L153.83,202.42 L154.71,203.80 L155.59,205.17 L156.46,206.52 L157.34,207.85 L158.22,209.16 L159.10,210.45 L159.97,211.73 L160.85,213.00 L161.73,214.24 L162.61,215.48 L163.49,216.70 L164.36,217.90 L165.24,219.10 L166.12,220.28 L167.00,221.45 L167.87,222.61 L168.75,223.76 L169.63,224.90 L170.51,226.03 L171.38,227.15 L172.26,228.25 L173.29,229.54 L174.31,230.81 L175.33,232.07 L176.36,233.32 L177.38,234.56 L178.41,235.78 L179.43,237.00 L180.45,238.21 L181.48,239.41 L182.50,240.60 L183.53,241.79 L184.55,242.96 L185.57,244.13 L186.60,245.29 L187.62,246.45 L188.65,247.59 L189.67,248.73 L190.70,249.86 L191.72,250.99 L192.74,252.11 L193.77,253.23 L194.79,254.34 L195.82,255.44 L196.84,256.54 L197.86,257.63 L198.89,258.72 L199.91,259.80 L200.94,260.88 L201.96,261.95 L202.98,263.02 L204.01,264.09 L205.03,265.15 L206.06,266.20 L207.08,267.25 L208.10,268.30 L209.13,269.34 L210.15,270.37 L211.18,271.41 L212.20,272.43 L213.22,273.46 L214.25,274.48 L215.27,275.49 L216.30,276.50 L217.32,277.50 L218.34,278.50 L219.37,279.50 L220.39,280.48 L221.42,281.47 L222.44,282.45 L223.61,283.56 L224.78,284.66 L225.95,285.75 L227.12,286.84 L228.29,287.91 L229.46,288.98 L230.63,290.04 L231.80,291.09 L232.97,292.12 L234.14,293.15 L235.31,294.16 L236.48,295.16 L237.65,296.15 L238.82,297.12 L239.99,298.07 L241.16,299.01 L242.34,299.94 L243.51,300.84 L244.68,301.73 L245.85,302.60 L247.02,303.45 L248.19,304.28 L249.36,305.08 L250.67,305.96 L251.99,306.80 L253.31,307.61 L254.62,308.39 L255.94,309.14 L257.26,309.85 L258.57,310.51 L259.89,311.14 L261.21,311.73 L262.52,312.28 L263.99,312.84 L265.45,313.35 L266.91,313.80 L268.37,314.20 L269.84,314.55 L271.30,314.83 L272.76,315.07 L274.23,315.25 L275.69,315.38 L277.15,315.45 L278.61,315.47 L280.08,315.44 L281.54,315.37 L283.00,315.24 L284.47,315.07 L285.93,314.85 L287.39,314.60 L288.85,314.30 L290.32,313.96 L291.78,313.59 L293.24,313.18 L294.71,312.74 L296.17,312.27 L297.63,311.76 L299.10,311.23 L300.56,310.67 L301.87,310.14 L303.19,309.60 L304.51,309.03 L305.82,308.45 L307.14,307.85 L308.46,307.23 L309.77,306.60 L311.09,305.95 L312.41,305.29 L313.72,304.61 L315.04,303.92 L316.36,303.22 L317.67,302.50 L318.99,301.77 L320.31,301.03 L321.62,300.27 L322.94,299.51 L324.26,298.73 L325.57,297.94 L326.89,297.14 L328.21,296.32 L329.52,295.50 L330.84,294.66 L332.16,293.82 L333.47,292.96 L334.79,292.09 L336.11,291.21 L337.42,290.32 L338.59,289.51 L339.76,288.70 L340.93,287.88 L342.10,287.05 L343.27,286.22 L344.44,285.37 L345.61,284.51 L346.79,283.65 L347.96,282.77 L349.13,281.89 L350.30,280.99 L351.47,280.09 L352.64,279.18 L353.81,278.25 L354.98,277.32 L356.15,276.38 L357.32,275.42 L358.49,274.46 L359.66,273.48 L360.83,272.50 L362.00,271.50 L363.17,270.50 L364.34,269.48 L365.51,268.45 L366.68,267.41 L367.85,266.36 L369.02,265.30 L370.19,264.23 L371.36,263.14 L372.53,262.05 L373.70,260.94 L374.73,259.96 L375.75,258.98 L376.77,257.98 L377.80,256.98 L378.82,255.96 L379.85,254.94 L380.87,253.91 L381.89,252.87 L382.92,251.81 L383.94,250.76 L384.97,249.69 L385.99,248.61 L387.01,247.52 L388.04,246.42 L389.06,245.32 L390.09,244.20 L391.11,243.08 L392.13,241.94 L393.16,240.80 L394.18,239.65 L395.21,238.48 L396.23,237.31 L397.25,236.13 L398.28,234.94 L399.30,233.74 L400.33,232.53 L401.35,231.32 L402.37,230.09 L403.40,228.85 L404.42,227.61 L405.45,226.35 L406.47,225.09 L407.50,223.82 L408.52,222.54 L409.54,221.25 L410.42,220.13 L411.30,219.01 L412.18,217.89 L413.05,216.76 L413.93,215.62 L414.81,214.47 L415.69,213.32 L416.56,212.16 L417.44,211.00 L418.32,209.83 L419.20,208.65 L420.08,207.47 L420.95,206.28 L421.83,205.08 L422.71,203.88 L423.59,202.67 L424.46,201.46 L425.34,200.24 L426.22,199.01 L427.10,197.78 L427.98,196.54 L428.85,195.30 L429.73,194.05 L430.61,192.79 L431.49,191.53 L432.36,190.26 L433.24,188.99 L434.12,187.71 L435.00,186.43 L435.88,185.14 L436.75,183.84 L437.63,182.54 L438.51,181.23 L439.39,179.92 L440.26,178.60 L441.14,177.28 L442.02,175.95 L442.90,174.62 L443.77,173.28 L444.65,171.93 L445.53,170.58 L446.41,169.22 L447.29,167.86 L448.16,166.49 L449.04,165.12 L449.92,163.74 L450.80,162.35 L451.67,160.96 L452.55,159.57 L453.43,158.17 L454.31,156.76 L455.19,155.35 L456.06,153.93 L456.94,152.51 L457.82,151.08 L458.70,149.64 L459.57,148.20 L460.45,146.75 L461.18,145.54 L461.91,144.33 L462.65,143.11 L463.38,141.88 L464.11,140.66 L464.84,139.42 L465.57,138.19 L466.30,136.95 L467.03,135.70 L467.77,134.45 L468.50,133.20 L469.23,131.94 L469.96,130.67 L470.69,129.40 L471.42,128.13 L472.15,126.85 L472.89,125.56 L473.62,124.27 L474.35,122.98 L475.08,121.68 L475.81,120.37 L476.54,119.06 L477.27,117.74 L478.01,116.41 L478.74,115.08 L479.47,113.74 L480.20,112.40 L480.93,111.04 L481.66,109.68 L482.39,108.32 L483.13,106.94 L483.86,105.56 L484.59,104.17 L485.32,102.78 L486.05,101.37 L486.78,99.96 L487.51,98.53 L488.25,97.10 L488.98,95.66 L489.71,94.21 L490.44,92.75 L491.17,91.28 L491.90,89.80 L492.64,88.30 L493.37,86.80 L494.10,85.29 L494.83,83.76 L494.83,83.76" stroke="#1f77b4" stroke-dasharray="7.4,3.2"/>
<path d="M105.12,77.35 L105.26,80.23 L105.41,83.07 L105.56,85.88 L105.70,88.66 L105.85,91.41 L105.99,94.12 L106.14,96.81 L106.29,99.48 L106.43,102.11 L106.58,104.72 L106.73,107.30 L106.87,109.85 L107.02,112.38 L107.16,114.87 L107.31,117.34 L107.46,119.79 L107.60,122.20 L107.75,124.59 L107.90,126.95 L108.04,129.28 L108.19,131.58 L108.33,133.86 L108.48,136.10 L108.63,138.32 L108.77,140.50 L108.92,142.66 L109.07,144.79 L109.21,146.89 L109.36,148.96 L109.50,151.01 L109.65,153.03 L109.80,155.02 L109.94,156.98 L110.09,158.92 L110.24,160.83 L110.38,162.72 L110.53,164.58 L110.68,166.42 L110.82,168.23 L110.97,170.03 L111.11,171.80 L111.26,173.55 L111.41,175.28 L111.55,176.99 L111.70,178.69 L111.85,180.36 L111.99,182.02 L112.14,183.66 L112.28,185.28 L112.43,186.89 L112.58,188.48 L112.72,190.06 L112.87,191.63 L113.02,193.18 L113.16,194.72 L113.31,196.24 L113.45,197.75 L113.60,199.25 L113.75,200.74 L113.89,202.22 L114.04,203.69 L114.19,205.14 L114.33,206.59 L114.48,208.02 L114.62,209.45 L114.77,210.86 L115.06,213.66 L115.36,216.42 L115.65,219.14 L115.94,221.82 L116.23,224.46 L116.53,227.06 L116.82,229.61 L117.11,232.13 L117.40,234.59 L117.70,237.02 L117.99,239.40 L118.28,241.73 L118.57,244.01 L118.87,246.23 L119.16,248.41 L119.45,250.54 L119.75,252.61 L120.04,254.62 L120.33,256.59 L120.62,258.49 L120.92,260.35 L121.21,262.14 L121.50,263.89 L121.79,265.57 L122.09,267.21 L122.38,268.80 L122.67,270.33 L122.96,271.82 L123.26,273.26 L123.55,274.66 L123.99,276.68 L124.43,278.60 L124.87,280.44 L125.30,282.21 L125.74,283.91 L126.18,285.54 L126.62,287.12 L127.06,288.65 L127.50,290.12 L127.94,291.56 L128.38,292.96 L128.81,294.32 L129.40,296.09 L129.99,297.80 L130.57,299.48 L131.16,301.11 L131.74,302.71 L132.33,304.27 L132.91,305.81 L133.50,307.31 L134.08,308.79 L134.67,310.24 L135.25,311.67 L135.84,313.07 L136.42,314.45 L137.01,315.80 L137.59,317.13 L138.18,318.43 L138.91,320.03 L139.64,321.59 L140.37,323.11 L141.10,324.60 L141.83,326.05 L142.57,327.46 L143.30,328.84 L144.03,330.17 L144.76,331.47 L145.49,332.73 L146.22,333.96 L147.10,335.38 L147.98,336.74 L148.86,338.06 L149.73,339.32 L150.61,340.54 L151.49,341.70 L152.37,342.81 L153.39,344.05 L154.42,345.23 L155.44,346.34 L156.46,347.40 L157.49,348.40 L158.66,349.48 L159.83,350.49 L161.00,351.43 L162.17,352.31 L163.34,353.14 L164.66,354.00 L165.97,354.80 L167.29,355.54 L168.61,356.21 L169.92,356.84 L171.24,357.41 L172.56,357.94 L174.02,358.47 L175.48,358.95 L176.94,359.38 L178.41,359.76 L179.87,360.10 L181.33,360.40 L182.80,360.67 L184.26,360.89 L185.72,361.09 L187.18,361.25 L188.65,361.38 L190.11,361.48 L191.57,361.56 L193.04,361.60 L194.50,361.63 L195.96,361.63 L197.42,361.60 L198.89,361.55 L200.35,361.49 L201.81,361.40 L203.28,361.29 L204.74,361.16 L206.20,361.01 L207.66,360.85 L209.13,360.67 L210.59,360.47 L212.05,360.25 L213.52,360.02 L214.98,359.77 L216.44,359.51 L217.90,359.23 L219.37,358.94 L220.83,358.63 L222.29,358.31 L223.76,357.98 L225.22,357.63 L226.68,357.27 L228.14,356.89 L229.61,356.51 L231.07,356.11 L232.53,355.69 L234.00,355.27 L235.46,354.83 L236.92,354.39 L238.39,353.93 L239.85,353.45 L241.31,352.97 L242.77,352.48 L244.24,351.97 L245.70,351.46 L247.16,350.93 L248.63,350.39 L250.09,349.84 L251.55,349.28 L253.01,348.71 L254.33,348.19 L255.65,347.66 L256.96,347.12 L258.28,346.58 L259.60,346.02 L260.91,345.46 L262.23,344.89 L263.55,344.31 L264.86,343.72 L266.18,343.13 L267.50,342.53 L268.81,341.91 L270.13,341.30 L271.45,340.67 L272.76,340.03 L274.08,339.39 L275.40,338.74 L276.71,338.08 L278.03,337.42 L279.35,336.75 L280.66,336.06 L281.98,335.38 L283.30,334.68 L284.61,333.97 L285.93,333.26 L287.25,332.54 L288.56,331.81 L289.88,331.08 L291.20,330.34 L292.51,329.59 L293.83,328.83 L295.15,328.06 L296.46,327.29 L297.78,326.50 L299.10,325.71 L300.41,324.92 L301.73,324.11 L303.04,323.30 L304.36,322.48 L305.68,321.65 L306.99,320.81 L308.31,319.96 L309.63,319.11 L310.94,318.25 L312.26,317.38 L313.58,316.50 L314.89,315.61 L316.06,314.82 L317.23,314.02 L318.41,313.21 L319.58,312.40 L320.75,311.58 L321.92,310.75 L323.09,309.92 L324.26,309.07 L325.43,308.23 L326.60,307.37 L327.77,306.51 L328.94,305.65 L330.11,304.77 L331.28,303.89 L332.45,303.00 L333.62,302.11 L334.79,301.21 L335.96,300.30 L337.13,299.39 L338.30,298.46 L339.47,297.53 L340.64,296.60 L341.81,295.66 L342.98,294.71 L344.15,293.75 L345.32,292.78 L346.49,291.81 L347.66,290.83 L348.83,289.85 L350.00,288.86 L351.17,287.86 L352.34,286.85 L353.51,285.83 L354.68,284.81 L355.86,283.78 L357.03,282.75 L358.20,281.70 L359.37,280.65 L360.54,279.59 L361.71,278.52 L362.88,277.45 L364.05,276.36 L365.22,275.27 L366.39,274.17 L367.56,273.07 L368.73,271.95 L369.75,270.97 L370.78,269.98 L371.80,268.99 L372.82,267.99 L373.85,266.98 L374.87,265.97 L375.90,264.95 L376.92,263.92 L377.94,262.89 L378.97,261.85 L379.99,260.80 L381.02,259.75 L382.04,258.69 L383.06,257.62 L384.09,256.55 L385.11,255.46 L386.14,254.38 L387.16,253.28 L388.18,252.18 L389.21,251.07 L390.23,249.95 L391.26,248.83 L392.28,247.69 L393.31,246.55 L394.33,245.41 L395.35,244.25 L396.38,243.09 L397.40,241.91 L398.43,240.73 L399.45,239.55 L400.47,238.35 L401.50,237.15 L402.52,235.93 L403.55,234.71 L404.57,233.48 L405.59,232.24 L406.62,230.99 L407.64,229.74 L408.67,228.47 L409.69,227.20 L410.71,225.92 L411.74,224.62 L412.62,223.51 L413.49,222.39 L414.37,221.26 L415.25,220.12 L416.13,218.98 L417.00,217.83 L417.88,216.67 L418.76,215.51 L419.64,214.34 L420.51,213.16 L421.39,211.97 L422.27,210.78 L423.15,209.58 L424.03,208.37 L424.90,207.16 L425.78,205.94 L426.66,204.71 L427.54,203.47 L428.41,202.23 L429.29,200.98 L430.17,199.72 L431.05,198.46 L431.93,197.18 L432.80,195.90 L433.68,194.62 L434.56,193.32 L435.44,192.02 L436.31,190.71 L437.19,189.39 L438.07,188.07 L438.95,186.74 L439.82,185.40 L440.70,184.05 L441.58,182.70 L442.46,181.34 L443.34,179.97 L444.21,178.60 L445.09,177.22 L445.97,175.83 L446.85,174.44 L447.72,173.04 L448.60,171.63 L449.48,170.21 L450.36,168.79 L451.24,167.36 L452.11,165.93 L452.99,164.49 L453.87,163.04 L454.60,161.83 L455.33,160.61 L456.06,159.39 L456.79,158.17 L457.53,156.94 L458.26,155.70 L458.99,154.47 L459.72,153.23 L460.45,151.98 L461.18,150.73 L461.91,149.48 L462.65,148.22 L463.38,146.96 L464.11,145.69 L464.84,144.42 L465.57,143.15 L466.30,141.87 L467.03,140.59 L467.77,139.31 L468.50,138.02 L469.23,136.73 L469.96,135.43 L470.69,134.13 L471.42,132.83 L472.15,131.52 L472.89,130.21 L473.62,128.90 L474.35,127.58 L475.08,126.26 L475.81,124.94 L476.54,123.62 L477.27,122.29 L478.01,120.95 L478.74,119.62 L479.47,118.28 L480.20,116.93 L480.93,115.59 L481.66,114.24 L482.39,112.89 L483.13,111.53 L483.86,110.18 L484.59,108.81 L485.32,107.45 L486.05,106.08 L486.78,104.71 L487.51,103.34 L488.25,101.97 L488.98,100.59 L489.71,99.20 L490.44,97.82 L491.17,96.43 L491.90,95.04 L492.64,93.65 L493.37,92.25 L494.10,90.85 L494.83,89.45 L495.56,88.04 L496.29,86.64 L497.02,85.22 L497.76,83.81 L498.49,82.39 L499.22,80.97 L499.95,79.55 L500.68,78.12 L501.41,76.69 L502.00,75.54" stroke="#9467bd"/>
<path d="M113.75,84.26 L114.04,86.31 L114.33,88.32 L114.62,90.30 L114.92,92.24 L115.21,94.15 L115.50,96.02 L115.80,97.86 L116.09,99.67 L116.38,101.44 L116.67,103.19 L116.97,104.90 L117.26,106.58 L117.55,108.23 L117.84,109.85 L118.14,111.45 L118.43,113.02 L118.72,114.56 L119.01,116.07 L119.31,117.56 L119.60,119.03 L119.89,120.47 L120.18,121.89 L120.48,123.29 L120.92,125.35 L121.35,127.36 L121.79,129.33 L122.23,131.26 L122.67,133.15 L123.11,135.00 L123.55,136.82 L123.99,138.60 L124.43,140.35 L124.87,142.07 L125.30,143.76 L125.74,145.42 L126.18,147.05 L126.62,148.65 L127.06,150.22 L127.50,151.77 L127.94,153.30 L128.38,154.79 L128.81,156.27 L129.25,157.71 L129.69,159.14 L130.13,160.54 L130.57,161.92 L131.01,163.28 L131.59,165.05 L132.18,166.79 L132.76,168.49 L133.35,170.15 L133.94,171.78 L134.52,173.37 L135.11,174.94 L135.69,176.47 L136.28,177.97 L136.86,179.44 L137.45,180.88 L138.03,182.29 L138.62,183.68 L139.20,185.04 L139.79,186.38 L140.37,187.69 L140.96,188.98 L141.69,190.56 L142.42,192.11 L143.15,193.63 L143.88,195.12 L144.61,196.58 L145.35,198.01 L146.08,199.42 L146.81,200.81 L147.54,202.17 L148.27,203.51 L149.00,204.83 L149.73,206.13 L150.47,207.41 L151.20,208.67 L151.93,209.92 L152.66,211.15 L153.39,212.36 L154.27,213.80 L155.15,215.22 L156.02,216.61 L156.90,217.99 L157.78,219.35 L158.66,220.69 L159.54,222.02 L160.41,223.33 L161.29,224.62 L162.17,225.90 L163.05,227.16 L163.92,228.41 L164.80,229.65 L165.68,230.87 L166.56,232.08 L167.44,233.27 L168.31,234.46 L169.19,235.63 L170.07,236.80 L170.95,237.95 L171.82,239.09 L172.70,240.22 L173.58,241.34 L174.46,242.45 L175.48,243.73 L176.51,245.00 L177.53,246.26 L178.55,247.50 L179.58,248.74 L180.60,249.96 L181.63,251.17 L182.65,252.37 L183.67,253.57 L184.70,254.75 L185.72,255.92 L186.75,257.09 L187.77,258.24 L188.79,259.39 L189.82,260.53 L190.84,261.66 L191.87,262.78 L192.89,263.89 L193.91,265.00 L194.94,266.10 L195.96,267.19 L196.99,268.28 L198.01,269.36 L199.03,270.43 L200.06,271.50 L201.08,272.56 L202.11,273.61 L203.13,274.66 L204.15,275.70 L205.18,276.74 L206.20,277.77 L207.23,278.80 L208.25,279.82 L209.27,280.83 L210.30,281.84 L211.32,282.85 L212.35,283.84 L213.37,284.84 L214.39,285.83 L215.42,286.81 L216.44,287.79 L217.61,288.90 L218.78,290.00 L219.95,291.09 L221.12,292.18 L222.29,293.26 L223.46,294.33 L224.63,295.40 L225.80,296.45 L226.97,297.50 L228.14,298.54 L229.32,299.57 L230.49,300.59 L231.66,301.60 L232.83,302.60 L234.00,303.59 L235.17,304.56 L236.34,305.53 L237.51,306.48 L238.68,307.42 L239.85,308.35 L241.02,309.26 L242.19,310.16 L243.36,311.04 L244.53,311.91 L245.70,312.75 L246.87,313.58 L248.04,314.39 L249.36,315.28 L250.67,316.14 L251.99,316.98 L253.31,317.78 L254.62,318.55 L255.94,319.29 L257.26,320.00 L258.57,320.67 L259.89,321.31 L261.21,321.90 L262.52,322.46 L263.84,322.98 L265.30,323.51 L266.77,323.98 L268.23,324.40 L269.69,324.77 L271.15,325.08 L272.62,325.34 L274.08,325.54 L275.54,325.68 L277.01,325.77 L278.47,325.80 L279.93,325.78 L281.39,325.71 L282.86,325.58 L284.32,325.40 L285.78,325.17 L287.25,324.90 L288.71,324.58 L290.17,324.21 L291.63,323.80 L293.10,323.35 L294.56,322.86 L296.02,322.34 L297.49,321.78 L298.80,321.24 L300.12,320.68 L301.44,320.10 L302.75,319.49 L304.07,318.86 L305.39,318.21 L306.70,317.54 L308.02,316.85 L309.34,316.14 L310.65,315.41 L311.97,314.67 L313.29,313.91 L314.60,313.13 L315.92,312.34 L317.23,311.54 L318.55,310.72 L319.87,309.89 L321.18,309.05 L322.50,308.19 L323.82,307.32 L325.13,306.44 L326.45,305.55 L327.62,304.75 L328.79,303.94 L329.96,303.12 L331.13,302.29 L332.30,301.45 L333.47,300.61 L334.64,299.76 L335.81,298.90 L336.98,298.03 L338.15,297.15 L339.32,296.27 L340.49,295.38 L341.67,294.48 L342.84,293.57 L344.01,292.66 L345.18,291.73 L346.35,290.80 L347.52,289.87 L348.69,288.92 L349.86,287.97 L351.03,287.01 L352.20,286.04 L353.37,285.06 L354.54,284.08 L355.71,283.09 L356.88,282.09 L358.05,281.08 L359.22,280.06 L360.39,279.04 L361.56,278.01 L362.73,276.97 L363.90,275.92 L365.07,274.86 L366.24,273.80 L367.41,272.72 L368.58,271.64 L369.75,270.55 L370.92,269.45 L372.09,268.34 L373.12,267.37 L374.14,266.38 L375.17,265.39 L376.19,264.39 L377.21,263.39 L378.24,262.37 L379.26,261.35 L380.29,260.33 L381.31,259.29 L382.33,258.25 L383.36,257.20 L384.38,256.14 L385.41,255.08 L386.43,254.01 L387.45,252.93 L388.48,251.84 L389.50,250.74 L390.53,249.64 L391.55,248.53 L392.57,247.40 L393.60,246.27 L394.62,245.14 L395.65,243.99 L396.67,242.84 L397.69,241.67 L398.72,240.50 L399.74,239.32 L400.77,238.13 L401.79,236.93 L402.81,235.72 L403.84,234.50 L404.86,233.28 L405.89,232.04 L406.91,230.79 L407.93,229.54 L408.96,228.27 L409.98,227.00 L411.01,225.71 L412.03,224.42 L412.91,223.30 L413.79,222.18 L414.66,221.05 L415.54,219.91 L416.42,218.76 L417.30,217.61 L418.17,216.44 L419.05,215.28 L419.93,214.10 L420.81,212.92 L421.69,211.72 L422.56,210.52 L423.44,209.32 L424.32,208.10 L425.20,206.88 L426.07,205.65 L426.95,204.42 L427.83,203.17 L428.71,201.92 L429.58,200.66 L430.46,199.39 L431.34,198.12 L432.22,196.83 L433.10,195.54 L433.97,194.25 L434.85,192.94 L435.73,191.63 L436.61,190.31 L437.48,188.98 L438.36,187.65 L439.24,186.31 L440.12,184.96 L441.00,183.60 L441.87,182.24 L442.75,180.87 L443.63,179.49 L444.51,178.11 L445.38,176.71 L446.26,175.32 L447.14,173.91 L448.02,172.50 L448.89,171.08 L449.77,169.65 L450.65,168.22 L451.53,166.78 L452.41,165.34 L453.28,163.89 L454.01,162.68 L454.75,161.46 L455.48,160.23 L456.21,159.01 L456.94,157.78 L457.67,156.54 L458.40,155.30 L459.13,154.06 L459.87,152.81 L460.60,151.56 L461.33,150.31 L462.06,149.05 L462.79,147.79 L463.52,146.52 L464.26,145.25 L464.99,143.98 L465.72,142.70 L466.45,141.42 L467.18,140.13 L467.91,138.85 L468.64,137.56 L469.38,136.26 L470.11,134.96 L470.84,133.66 L471.57,132.36 L472.30,131.05 L473.03,129.74 L473.76,128.43 L474.50,127.11 L475.23,125.79 L475.96,124.47 L476.69,123.15 L477.42,121.82 L478.15,120.49 L478.88,119.16 L479.62,117.82 L480.35,116.48 L481.08,115.14 L481.81,113.80 L482.54,112.45 L483.27,111.10 L484.00,109.75 L484.74,108.40 L485.47,107.04 L486.20,105.69 L486.93,104.33 L487.66,102.96 L488.39,101.60 L489.12,100.23 L489.86,98.86 L490.59,97.49 L491.32,96.12 L492.05,94.75 L492.78,93.37 L493.51,91.99 L494.24,90.61 L494.98,89.23 L495.71,87.84 L496.44,86.46 L497.17,85.07 L497.90,83.68 L497.90,83.68" stroke="#9467bd" stroke-dasharray="7.4,3.2"/>
<path d="M102.63,77.42 L102.78,80.24 L102.92,83.05 L103.07,85.84 L103.21,88.63 L103.36,91.41 L103.51,94.17 L103.65,96.92 L103.80,99.66 L103.95,102.38 L104.09,105.09 L104.24,107.79 L104.38,110.46 L104.53,113.12 L104.68,115.77 L104.82,118.39 L104.97,120.99 L105.12,123.58 L105.26,126.14 L105.41,128.68 L105.56,131.19 L105.70,133.69 L105.85,136.16 L105.99,138.60 L106.14,141.02 L106.29,143.41 L106.43,145.78 L106.58,148.12 L106.73,150.43 L106.87,152.71 L107.02,154.96 L107.16,157.19 L107.31,159.39 L107.46,161.56 L107.60,163.70 L107.75,165.81 L107.90,167.89 L108.04,169.95 L108.19,171.98 L108.33,173.98 L108.48,175.95 L108.63,177.90 L108.77,179.82 L108.92,181.71 L109.07,183.58 L109.21,185.43 L109.36,187.26 L109.50,189.06 L109.65,190.84 L109.80,192.60 L109.94,194.34 L110.09,196.06 L110.24,197.76 L110.38,199.44 L110.53,201.11 L110.68,202.76 L110.82,204.40 L110.97,206.02 L111.11,207.62 L111.26,209.22 L111.41,210.79 L111.55,212.36 L111.70,213.92 L111.85,215.46 L111.99,216.99 L112.14,218.52 L112.28,220.03 L112.43,221.53 L112.58,223.03 L112.72,224.51 L112.87,225.99 L113.02,227.46 L113.16,228.93 L113.31,230.38 L113.45,231.83 L113.60,233.27 L113.75,234.70 L113.89,236.13 L114.04,237.55 L114.19,238.97 L114.33,240.38 L114.62,243.18 L114.92,245.96 L115.21,248.72 L115.50,251.45 L115.80,254.16 L116.09,256.85 L116.38,259.51 L116.67,262.16 L116.97,264.77 L117.26,267.37 L117.55,269.93 L117.84,272.47 L118.14,274.98 L118.43,277.47 L118.72,279.91 L119.01,282.33 L119.31,284.71 L119.60,287.06 L119.89,289.36 L120.18,291.63 L120.48,293.86 L120.77,296.04 L121.06,298.18 L121.35,300.27 L121.65,302.32 L121.94,304.31 L122.23,306.25 L122.52,308.15 L122.82,309.99 L123.11,311.77 L123.40,313.51 L123.69,315.19 L123.99,316.81 L124.28,318.39 L124.57,319.90 L124.87,321.37 L125.16,322.79 L125.60,324.81 L126.04,326.73 L126.47,328.55 L126.91,330.26 L127.35,331.89 L127.79,333.42 L128.23,334.88 L128.67,336.26 L129.25,338.00 L129.84,339.64 L130.42,341.18 L131.01,342.64 L131.59,344.03 L132.18,345.35 L132.91,346.93 L133.64,348.44 L134.37,349.89 L135.11,351.29 L135.84,352.65 L136.57,353.96 L137.30,355.25 L138.03,356.50 L138.76,357.73 L139.64,359.17 L140.52,360.59 L141.40,361.97 L142.27,363.33 L143.15,364.66 L144.03,365.97 L144.91,367.26 L145.78,368.52 L146.66,369.76 L147.54,370.98 L148.42,372.17 L149.30,373.34 L150.17,374.48 L151.05,375.61 L152.07,376.89 L153.10,378.13 L154.12,379.34 L155.15,380.52 L156.17,381.67 L157.19,382.78 L158.22,383.85 L159.24,384.89 L160.27,385.89 L161.44,386.99 L162.61,388.05 L163.78,389.06 L164.95,390.02 L166.12,390.93 L167.29,391.80 L168.46,392.63 L169.78,393.50 L171.09,394.32 L172.41,395.09 L173.73,395.80 L175.04,396.46 L176.36,397.07 L177.68,397.64 L178.99,398.15 L180.45,398.68 L181.92,399.15 L183.38,399.57 L184.84,399.94 L186.31,400.27 L187.77,400.55 L189.23,400.79 L190.70,401.00 L192.16,401.16 L193.62,401.30 L195.08,401.40 L196.55,401.46 L198.01,401.50 L199.47,401.51 L200.94,401.50 L202.40,401.45 L203.86,401.39 L205.32,401.30 L206.79,401.19 L208.25,401.05 L209.71,400.90 L211.18,400.73 L212.64,400.54 L214.10,400.33 L215.56,400.10 L217.03,399.86 L218.49,399.60 L219.95,399.33 L221.42,399.04 L222.88,398.73 L224.34,398.41 L225.80,398.08 L227.27,397.73 L228.73,397.36 L230.19,396.99 L231.66,396.60 L233.12,396.19 L234.58,395.78 L236.04,395.35 L237.51,394.90 L238.97,394.45 L240.43,393.98 L241.90,393.49 L243.36,393.00 L244.82,392.49 L246.28,391.97 L247.75,391.43 L249.21,390.89 L250.67,390.33 L252.14,389.75 L253.45,389.22 L254.77,388.68 L256.09,388.14 L257.40,387.57 L258.72,387.00 L260.04,386.42 L261.35,385.83 L262.67,385.22 L263.99,384.61 L265.30,383.98 L266.62,383.34 L267.94,382.69 L269.25,382.03 L270.57,381.36 L271.89,380.67 L273.20,379.97 L274.52,379.26 L275.84,378.54 L277.15,377.81 L278.47,377.06 L279.78,376.30 L281.10,375.53 L282.42,374.75 L283.73,373.95 L285.05,373.14 L286.37,372.32 L287.68,371.48 L289.00,370.63 L290.32,369.76 L291.63,368.89 L292.95,367.99 L294.12,367.19 L295.29,366.37 L296.46,365.55 L297.63,364.71 L298.80,363.86 L299.97,363.00 L301.14,362.12 L302.31,361.24 L303.48,360.34 L304.65,359.44 L305.82,358.52 L306.99,357.58 L308.16,356.64 L309.34,355.69 L310.51,354.72 L311.68,353.74 L312.85,352.75 L314.02,351.74 L315.19,350.73 L316.36,349.70 L317.53,348.66 L318.70,347.60 L319.87,346.54 L321.04,345.46 L322.21,344.37 L323.38,343.27 L324.55,342.15 L325.57,341.17 L326.60,340.17 L327.62,339.17 L328.65,338.16 L329.67,337.13 L330.69,336.10 L331.72,335.06 L332.74,334.01 L333.77,332.95 L334.79,331.88 L335.81,330.81 L336.84,329.72 L337.86,328.63 L338.89,327.52 L339.91,326.41 L340.93,325.29 L341.96,324.16 L342.98,323.02 L344.01,321.88 L345.03,320.72 L346.05,319.56 L347.08,318.39 L348.10,317.21 L349.13,316.02 L350.15,314.83 L351.17,313.63 L352.20,312.42 L353.22,311.20 L354.25,309.98 L355.27,308.74 L356.29,307.50 L357.32,306.26 L358.34,305.00 L359.37,303.74 L360.39,302.47 L361.41,301.20 L362.44,299.92 L363.46,298.63 L364.34,297.52 L365.22,296.41 L366.10,295.29 L366.97,294.17 L367.85,293.04 L368.73,291.91 L369.61,290.77 L370.48,289.63 L371.36,288.49 L372.24,287.34 L373.12,286.18 L373.99,285.03 L374.87,283.87 L375.75,282.70 L376.63,281.53 L377.51,280.36 L378.38,279.18 L379.26,278.00 L380.14,276.82 L381.02,275.63 L381.89,274.44 L382.77,273.25 L383.65,272.05 L384.53,270.85 L385.41,269.65 L386.28,268.44 L387.16,267.23 L388.04,266.01 L388.92,264.80 L389.79,263.58 L390.67,262.35 L391.55,261.13 L392.43,259.90 L393.31,258.67 L394.18,257.43 L395.06,256.19 L395.94,254.95 L396.82,253.71 L397.69,252.47 L398.57,251.22 L399.45,249.97 L400.33,248.71 L401.20,247.46 L402.08,246.20 L402.96,244.94 L403.84,243.67 L404.72,242.41 L405.59,241.14 L406.47,239.87 L407.35,238.59 L408.23,237.32 L409.10,236.04 L409.98,234.76 L410.86,233.48 L411.74,232.19 L412.62,230.90 L413.49,229.61 L414.37,228.32 L415.25,227.03 L416.13,225.73 L417.00,224.44 L417.88,223.14 L418.76,221.83 L419.64,220.53 L420.51,219.22 L421.39,217.92 L422.27,216.61 L423.15,215.29 L424.03,213.98 L424.90,212.66 L425.78,211.34 L426.66,210.02 L427.54,208.70 L428.41,207.38 L429.29,206.05 L430.17,204.72 L431.05,203.39 L431.93,202.06 L432.80,200.72 L433.68,199.38 L434.56,198.04 L435.44,196.70 L436.31,195.36 L437.19,194.01 L438.07,192.67 L438.95,191.32 L439.82,189.96 L440.70,188.61 L441.58,187.25 L442.46,185.89 L443.34,184.53 L444.21,183.17 L445.09,181.80 L445.97,180.43 L446.85,179.06 L447.72,177.69 L448.60,176.31 L449.48,174.93 L450.36,173.55 L451.24,172.16 L452.11,170.77 L452.99,169.38 L453.87,167.99 L454.75,166.59 L455.62,165.19 L456.50,163.78 L457.38,162.37 L458.26,160.96 L459.13,159.55 L460.01,158.12 L460.89,156.70 L461.77,155.27 L462.65,153.84 L463.52,152.40 L464.40,150.95 L465.28,149.50 L466.01,148.29 L466.74,147.08 L467.47,145.86 L468.20,144.63 L468.94,143.40 L469.67,142.17 L470.40,140.93 L471.13,139.69 L471.86,138.44 L472.59,137.18 L473.32,135.92 L474.06,134.66 L474.79,133.38 L475.52,132.11 L476.25,130.82 L476.98,129.53 L477.71,128.23 L478.45,126.92 L479.18,125.60 L479.91,124.28 L480.64,122.94 L481.37,121.60 L482.10,120.25 L482.83,118.89 L483.57,117.52 L484.30,116.14 L485.03,114.74 L485.76,113.34 L486.49,111.92 L487.22,110.50 L487.95,109.05 L488.69,107.60 L489.42,106.14 L490.15,104.65 L490.88,103.16 L491.61,101.65 L492.34,100.13 L493.07,98.59 L493.81,97.03 L494.54,95.46 L495.27,93.87 L496.00,92.27 L496.58,90.97 L497.17,89.67 L497.76,88.35 L498.34,87.02 L498.93,85.68 L499.51,84.33 L500.10,82.96 L500.68,81.59 L501.27,80.20 L501.85,78.80 L502.44,77.39 L503.02,75.96 L503.17,75.60" stroke="#ff7f0e"/>
<path d="M108.19,83.60 L108.48,85.68 L108.77,87.75 L109.07,89.81 L109.36,91.86 L109.65,93.91 L109.94,95.95 L110.24,97.97 L110.53,100.00 L110.82,102.01 L111.11,104.02 L111.41,106.01 L111.70,108.00 L111.99,109.98 L112.28,111.96 L112.58,113.92 L112.87,115.88 L113.16,117.82 L113.45,119.76 L113.75,121.69 L114.04,123.61 L114.33,125.52 L114.62,127.41 L114.92,129.30 L115.21,131.18 L115.50,133.05 L115.80,134.90 L116.09,136.75 L116.38,138.58 L116.67,140.39 L116.97,142.20 L117.26,143.99 L117.55,145.77 L117.84,147.53 L118.14,149.28 L118.43,151.01 L118.72,152.72 L119.01,154.42 L119.31,156.10 L119.60,157.76 L119.89,159.40 L120.18,161.02 L120.48,162.63 L120.77,164.21 L121.06,165.77 L121.35,167.31 L121.65,168.83 L121.94,170.33 L122.23,171.80 L122.52,173.25 L122.82,174.67 L123.11,176.07 L123.55,178.13 L123.99,180.13 L124.43,182.07 L124.87,183.96 L125.30,185.80 L125.74,187.57 L126.18,189.29 L126.62,190.96 L127.06,192.57 L127.50,194.14 L127.94,195.65 L128.38,197.12 L128.81,198.53 L129.25,199.91 L129.84,201.68 L130.42,203.37 L131.01,205.01 L131.59,206.58 L132.18,208.10 L132.76,209.57 L133.35,210.99 L133.94,212.37 L134.52,213.72 L135.11,215.03 L135.84,216.63 L136.57,218.19 L137.30,219.71 L138.03,221.20 L138.76,222.66 L139.49,224.09 L140.23,225.51 L140.96,226.90 L141.69,228.28 L142.42,229.64 L143.15,230.99 L143.88,232.33 L144.61,233.65 L145.35,234.96 L146.08,236.26 L146.81,237.56 L147.54,238.84 L148.27,240.12 L149.00,241.38 L149.73,242.64 L150.47,243.89 L151.20,245.13 L151.93,246.37 L152.66,247.59 L153.39,248.81 L154.12,250.02 L155.00,251.46 L155.88,252.89 L156.76,254.31 L157.63,255.72 L158.51,257.12 L159.39,258.50 L160.27,259.88 L161.14,261.24 L162.02,262.59 L162.90,263.93 L163.78,265.26 L164.66,266.58 L165.53,267.88 L166.41,269.17 L167.29,270.45 L168.17,271.72 L169.04,272.98 L169.92,274.22 L170.80,275.45 L171.68,276.67 L172.56,277.88 L173.43,279.07 L174.31,280.26 L175.19,281.43 L176.07,282.59 L176.94,283.74 L177.82,284.87 L178.70,286.00 L179.58,287.11 L180.60,288.39 L181.63,289.66 L182.65,290.92 L183.67,292.16 L184.70,293.38 L185.72,294.59 L186.75,295.79 L187.77,296.97 L188.79,298.14 L189.82,299.29 L190.84,300.43 L191.87,301.56 L192.89,302.68 L193.91,303.78 L194.94,304.87 L195.96,305.95 L196.99,307.02 L198.01,308.08 L199.03,309.12 L200.06,310.16 L201.08,311.18 L202.11,312.20 L203.13,313.20 L204.15,314.20 L205.18,315.18 L206.35,316.29 L207.52,317.40 L208.69,318.49 L209.86,319.57 L211.03,320.63 L212.20,321.69 L213.37,322.74 L214.54,323.77 L215.71,324.80 L216.88,325.82 L218.05,326.82 L219.22,327.82 L220.39,328.81 L221.56,329.79 L222.73,330.75 L223.90,331.72 L225.07,332.67 L226.24,333.61 L227.41,334.54 L228.58,335.47 L229.75,336.38 L230.92,337.29 L232.09,338.19 L233.27,339.08 L234.44,339.96 L235.61,340.83 L236.78,341.70 L237.95,342.55 L239.12,343.40 L240.29,344.24 L241.46,345.07 L242.63,345.88 L243.80,346.69 L244.97,347.49 L246.28,348.38 L247.60,349.25 L248.92,350.11 L250.23,350.96 L251.55,351.79 L252.87,352.61 L254.18,353.41 L255.50,354.19 L256.82,354.96 L258.13,355.71 L259.45,356.44 L260.77,357.15 L262.08,357.83 L263.40,358.50 L264.72,359.14 L266.03,359.75 L267.35,360.34 L268.67,360.90 L269.98,361.42 L271.45,361.97 L272.91,362.48 L274.37,362.94 L275.84,363.35 L277.30,363.72 L278.76,364.03 L280.22,364.28 L281.69,364.48 L283.15,364.61 L284.61,364.69 L286.08,364.69 L287.54,364.63 L289.00,364.50 L290.46,364.30 L291.93,364.04 L293.39,363.70 L294.85,363.28 L296.32,362.80 L297.78,362.25 L299.10,361.69 L300.41,361.08 L301.73,360.42 L303.04,359.70 L304.36,358.93 L305.68,358.12 L306.99,357.26 L308.16,356.45 L309.34,355.62 L310.51,354.75 L311.68,353.84 L312.85,352.91 L314.02,351.96 L315.19,350.97 L316.36,349.96 L317.53,348.92 L318.70,347.87 L319.87,346.79 L321.04,345.69 L322.06,344.71 L323.09,343.72 L324.11,342.71 L325.13,341.69 L326.16,340.66 L327.18,339.62 L328.21,338.56 L329.23,337.50 L330.25,336.42 L331.28,335.34 L332.30,334.25 L333.33,333.14 L334.35,332.03 L335.37,330.92 L336.40,329.79 L337.42,328.65 L338.45,327.51 L339.47,326.36 L340.49,325.21 L341.52,324.05 L342.54,322.88 L343.57,321.70 L344.59,320.52 L345.61,319.34 L346.64,318.14 L347.66,316.95 L348.69,315.74 L349.71,314.53 L350.73,313.32 L351.76,312.10 L352.78,310.88 L353.81,309.65 L354.83,308.41 L355.86,307.18 L356.88,305.93 L357.90,304.68 L358.93,303.43 L359.95,302.17 L360.98,300.91 L362.00,299.64 L363.02,298.37 L364.05,297.09 L365.07,295.81 L366.10,294.53 L367.12,293.24 L368.00,292.13 L368.87,291.02 L369.75,289.90 L370.63,288.78 L371.51,287.66 L372.39,286.53 L373.26,285.41 L374.14,284.27 L375.02,283.14 L375.90,282.00 L376.77,280.86 L377.65,279.71 L378.53,278.57 L379.41,277.41 L380.29,276.26 L381.16,275.10 L382.04,273.94 L382.92,272.78 L383.80,271.61 L384.67,270.44 L385.55,269.27 L386.43,268.09 L387.31,266.91 L388.18,265.73 L389.06,264.54 L389.94,263.35 L390.82,262.16 L391.70,260.96 L392.57,259.76 L393.45,258.56 L394.33,257.35 L395.21,256.14 L396.08,254.93 L396.96,253.72 L397.84,252.50 L398.72,251.28 L399.60,250.05 L400.47,248.82 L401.35,247.59 L402.23,246.36 L403.11,245.12 L403.98,243.88 L404.86,242.64 L405.74,241.39 L406.62,240.14 L407.50,238.88 L408.37,237.63 L409.25,236.37 L410.13,235.10 L411.01,233.84 L411.88,232.57 L412.76,231.30 L413.64,230.02 L414.52,228.74 L415.39,227.46 L416.27,226.17 L417.15,224.89 L418.03,223.59 L418.91,222.30 L419.78,221.00 L420.66,219.70 L421.54,218.40 L422.42,217.09 L423.29,215.78 L424.17,214.46 L425.05,213.15 L425.93,211.83 L426.81,210.50 L427.68,209.18 L428.56,207.84 L429.44,206.51 L430.32,205.17 L431.19,203.84 L432.07,202.49 L432.95,201.15 L433.83,199.80 L434.70,198.44 L435.58,197.09 L436.46,195.73 L437.34,194.36 L438.22,193.00 L439.09,191.63 L439.97,190.26 L440.85,188.88 L441.73,187.50 L442.60,186.12 L443.48,184.73 L444.36,183.34 L445.24,181.94 L446.12,180.55 L446.99,179.15 L447.87,177.74 L448.75,176.33 L449.63,174.92 L450.50,173.51 L451.38,172.09 L452.26,170.66 L453.14,169.24 L454.01,167.81 L454.89,166.37 L455.77,164.93 L456.65,163.49 L457.53,162.04 L458.40,160.59 L459.13,159.38 L459.87,158.16 L460.60,156.94 L461.33,155.72 L462.06,154.50 L462.79,153.27 L463.52,152.03 L464.26,150.80 L464.99,149.56 L465.72,148.32 L466.45,147.07 L467.18,145.82 L467.91,144.57 L468.64,143.31 L469.38,142.05 L470.11,140.79 L470.84,139.52 L471.57,138.24 L472.30,136.96 L473.03,135.68 L473.76,134.39 L474.50,133.10 L475.23,131.80 L475.96,130.50 L476.69,129.20 L477.42,127.88 L478.15,126.56 L478.88,125.24 L479.62,123.91 L480.35,122.58 L481.08,121.23 L481.81,119.89 L482.54,118.53 L483.27,117.17 L484.00,115.80 L484.74,114.42 L485.47,113.04 L486.20,111.65 L486.93,110.25 L487.66,108.84 L488.39,107.42 L489.12,106.00 L489.86,104.56 L490.59,103.12 L491.32,101.67 L492.05,100.20 L492.78,98.73 L493.51,97.25 L494.24,95.75 L494.98,94.24 L495.71,92.73 L496.44,91.20 L497.17,89.66 L497.90,88.10 L498.63,86.53 L499.36,84.95 L499.95,83.68" stroke="#ff7f0e" stroke-dasharray="7.4,3.2"/>
<path d="M101.46,76.02 L101.61,78.91 L101.75,81.79 L101.90,84.64 L102.04,87.47 L102.19,90.29 L102.34,93.08 L102.48,95.86 L102.63,98.62 L102.78,101.36 L102.92,104.08 L103.07,106.79 L103.21,109.47 L103.36,112.14 L103.51,114.78 L103.65,117.41 L103.80,120.01 L103.95,122.59 L104.09,125.15 L104.24,127.69 L104.38,130.20 L104.53,132.69 L104.68,135.15 L104.82,137.59 L104.97,140.00 L105.12,142.38 L105.26,144.74 L105.41,147.07 L105.56,149.38 L105.70,151.65 L105.85,153.90 L105.99,156.12 L106.14,158.31 L106.29,160.47 L106.43,162.61 L106.58,164.71 L106.73,166.79 L106.87,168.84 L107.02,170.87 L107.16,172.87 L107.31,174.84 L107.46,176.78 L107.60,178.70 L107.75,180.60 L107.90,182.47 L108.04,184.32 L108.19,186.15 L108.33,187.96 L108.48,189.74 L108.63,191.51 L108.77,193.26 L108.92,194.98 L109.07,196.69 L109.21,198.39 L109.36,200.07 L109.50,201.73 L109.65,203.37 L109.80,205.01 L109.94,206.63 L110.09,208.23 L110.24,209.83 L110.38,211.41 L110.53,212.98 L110.68,214.54 L110.82,216.10 L110.97,217.64 L111.11,219.17 L111.26,220.70 L111.41,222.21 L111.55,223.72 L111.70,225.22 L111.85,226.72 L111.99,228.21 L112.14,229.69 L112.28,231.16 L112.43,232.63 L112.58,234.09 L112.72,235.55 L112.87,237.00 L113.02,238.45 L113.16,239.89 L113.31,241.33 L113.45,242.76 L113.60,244.19 L113.75,245.61 L113.89,247.03 L114.04,248.44 L114.19,249.85 L114.48,252.65 L114.77,255.44 L115.06,258.21 L115.36,260.96 L115.65,263.69 L115.94,266.41 L116.23,269.10 L116.53,271.77 L116.82,274.42 L117.11,277.05 L117.40,279.65 L117.70,282.23 L117.99,284.78 L118.28,287.30 L118.57,289.80 L118.87,292.26 L119.16,294.68 L119.45,297.07 L119.75,299.43 L120.04,301.74 L120.33,304.02 L120.62,306.25 L120.92,308.43 L121.21,310.57 L121.50,312.66 L121.79,314.70 L122.09,316.69 L122.38,318.62 L122.67,320.50 L122.96,322.33 L123.26,324.10 L123.55,325.81 L123.84,327.47 L124.13,329.07 L124.43,330.62 L124.72,332.11 L125.01,333.55 L125.30,334.93 L125.74,336.92 L126.18,338.79 L126.62,340.55 L127.06,342.22 L127.50,343.80 L127.94,345.29 L128.38,346.70 L128.96,348.48 L129.55,350.14 L130.13,351.71 L130.72,353.18 L131.30,354.59 L131.89,355.93 L132.62,357.52 L133.35,359.04 L134.08,360.50 L134.81,361.91 L135.54,363.27 L136.28,364.60 L137.01,365.89 L137.74,367.15 L138.47,368.38 L139.20,369.59 L140.08,371.02 L140.96,372.41 L141.83,373.78 L142.71,375.12 L143.59,376.44 L144.47,377.73 L145.35,378.99 L146.22,380.23 L147.10,381.45 L147.98,382.65 L148.86,383.82 L149.73,384.96 L150.61,386.08 L151.64,387.35 L152.66,388.59 L153.68,389.79 L154.71,390.96 L155.73,392.09 L156.76,393.18 L157.78,394.23 L158.80,395.25 L159.83,396.23 L161.00,397.30 L162.17,398.32 L163.34,399.30 L164.51,400.22 L165.68,401.09 L166.85,401.92 L168.17,402.79 L169.48,403.61 L170.80,404.37 L172.12,405.07 L173.43,405.71 L174.75,406.30 L176.07,406.85 L177.53,407.39 L178.99,407.88 L180.45,408.31 L181.92,408.69 L183.38,409.02 L184.84,409.31 L186.31,409.55 L187.77,409.75 L189.23,409.91 L190.70,410.03 L192.16,410.11 L193.62,410.17 L195.08,410.19 L196.55,410.18 L198.01,410.15 L199.47,410.09 L200.94,410.00 L202.40,409.89 L203.86,409.76 L205.32,409.61 L206.79,409.44 L208.25,409.25 L209.71,409.04 L211.18,408.82 L212.64,408.58 L214.10,408.32 L215.56,408.05 L217.03,407.76 L218.49,407.46 L219.95,407.15 L221.42,406.82 L222.88,406.48 L224.34,406.13 L225.80,405.77 L227.27,405.39 L228.73,405.01 L230.19,404.61 L231.66,404.20 L233.12,403.78 L234.58,403.36 L236.04,402.92 L237.51,402.47 L238.97,402.01 L240.43,401.54 L241.90,401.07 L243.36,400.58 L244.82,400.08 L246.28,399.58 L247.75,399.06 L249.21,398.54 L250.67,398.00 L252.14,397.46 L253.60,396.91 L255.06,396.35 L256.53,395.78 L257.84,395.25 L259.16,394.72 L260.47,394.19 L261.79,393.64 L263.11,393.09 L264.42,392.53 L265.74,391.95 L267.06,391.38 L268.37,390.79 L269.69,390.19 L271.01,389.59 L272.32,388.97 L273.64,388.35 L274.96,387.72 L276.27,387.08 L277.59,386.42 L278.91,385.76 L280.22,385.09 L281.54,384.40 L282.86,383.71 L284.17,383.00 L285.49,382.28 L286.81,381.55 L288.12,380.81 L289.44,380.05 L290.76,379.28 L292.07,378.50 L293.39,377.70 L294.71,376.89 L296.02,376.06 L297.34,375.22 L298.66,374.36 L299.97,373.48 L301.29,372.59 L302.46,371.78 L303.63,370.96 L304.80,370.12 L305.97,369.27 L307.14,368.41 L308.31,367.52 L309.48,366.63 L310.65,365.71 L311.82,364.78 L312.99,363.84 L314.16,362.88 L315.33,361.90 L316.50,360.90 L317.67,359.89 L318.84,358.86 L320.01,357.81 L321.18,356.74 L322.35,355.66 L323.53,354.56 L324.55,353.58 L325.57,352.59 L326.60,351.58 L327.62,350.56 L328.65,349.53 L329.67,348.49 L330.69,347.43 L331.72,346.35 L332.74,345.27 L333.77,344.17 L334.79,343.05 L335.81,341.93 L336.84,340.79 L337.86,339.64 L338.89,338.48 L339.91,337.30 L340.93,336.12 L341.96,334.92 L342.98,333.71 L344.01,332.49 L345.03,331.25 L346.05,330.01 L347.08,328.76 L348.10,327.49 L349.13,326.22 L350.15,324.93 L351.17,323.64 L352.05,322.52 L352.93,321.40 L353.81,320.27 L354.68,319.13 L355.56,317.99 L356.44,316.84 L357.32,315.69 L358.20,314.53 L359.07,313.36 L359.95,312.19 L360.83,311.01 L361.71,309.83 L362.58,308.64 L363.46,307.45 L364.34,306.25 L365.22,305.05 L366.10,303.85 L366.97,302.64 L367.85,301.43 L368.73,300.21 L369.61,298.99 L370.48,297.76 L371.36,296.53 L372.24,295.30 L373.12,294.06 L373.99,292.82 L374.87,291.58 L375.75,290.34 L376.63,289.09 L377.51,287.84 L378.38,286.58 L379.26,285.32 L380.14,284.06 L381.02,282.80 L381.89,281.54 L382.77,280.27 L383.65,279.00 L384.53,277.73 L385.41,276.46 L386.28,275.18 L387.16,273.90 L388.04,272.62 L388.92,271.34 L389.79,270.06 L390.67,268.78 L391.55,267.49 L392.43,266.20 L393.31,264.91 L394.18,263.62 L395.06,262.33 L395.94,261.04 L396.82,259.74 L397.69,258.44 L398.57,257.15 L399.45,255.85 L400.33,254.55 L401.20,253.25 L402.08,251.94 L402.96,250.64 L403.84,249.34 L404.72,248.03 L405.59,246.72 L406.47,245.42 L407.35,244.11 L408.23,242.80 L409.10,241.49 L409.98,240.18 L410.86,238.87 L411.74,237.55 L412.62,236.24 L413.49,234.93 L414.37,233.61 L415.25,232.30 L416.13,230.98 L417.00,229.66 L417.88,228.34 L418.76,227.03 L419.64,225.71 L420.51,224.39 L421.39,223.07 L422.27,221.74 L423.15,220.42 L424.03,219.10 L424.90,217.78 L425.78,216.45 L426.66,215.13 L427.54,213.80 L428.41,212.48 L429.29,211.15 L430.17,209.82 L431.05,208.49 L431.93,207.16 L432.80,205.83 L433.68,204.50 L434.56,203.17 L435.44,201.84 L436.31,200.50 L437.19,199.17 L438.07,197.83 L438.95,196.50 L439.82,195.16 L440.70,193.82 L441.58,192.48 L442.46,191.14 L443.34,189.80 L444.21,188.46 L445.09,187.11 L445.97,185.77 L446.85,184.42 L447.72,183.07 L448.60,181.72 L449.48,180.37 L450.36,179.01 L451.24,177.65 L452.11,176.29 L452.99,174.93 L453.87,173.57 L454.75,172.20 L455.62,170.83 L456.50,169.46 L457.38,168.09 L458.26,166.71 L459.13,165.33 L460.01,163.94 L460.89,162.55 L461.77,161.16 L462.65,159.76 L463.52,158.35 L464.40,156.94 L465.28,155.53 L466.16,154.11 L467.03,152.68 L467.91,151.25 L468.79,149.81 L469.67,148.36 L470.40,147.15 L471.13,145.93 L471.86,144.70 L472.59,143.47 L473.32,142.23 L474.06,140.99 L474.79,139.73 L475.52,138.47 L476.25,137.20 L476.98,135.93 L477.71,134.64 L478.45,133.34 L479.18,132.04 L479.91,130.72 L480.64,129.39 L481.37,128.05 L482.10,126.70 L482.83,125.34 L483.57,123.96 L484.30,122.57 L485.03,121.17 L485.76,119.76 L486.49,118.32 L487.22,116.88 L487.95,115.42 L488.69,113.94 L489.42,112.44 L490.15,110.93 L490.88,109.40 L491.61,107.86 L492.34,106.29 L493.07,104.71 L493.81,103.11 L494.39,101.81 L494.98,100.50 L495.56,99.18 L496.15,97.85 L496.73,96.50 L497.32,95.14 L497.90,93.77 L498.49,92.39 L499.07,90.99 L499.66,89.58 L500.24,88.16 L500.83,86.72 L501.41,85.27 L502.00,83.81 L502.58,82.33 L503.17,80.84 L503.75,79.34 L504.34,77.82 L504.92,76.30 L505.22,75.53" stroke="#ffd300"/>
<path d="M106.29,84.08 L106.58,86.33 L106.87,88.56 L107.16,90.77 L107.46,92.96 L107.75,95.12 L108.04,97.27 L108.33,99.39 L108.63,101.49 L108.92,103.57 L109.21,105.62 L109.50,107.66 L109.80,109.67 L110.09,111.67 L110.38,113.64 L110.68,115.60 L110.97,117.53 L111.26,119.45 L111.55,121.34 L111.85,123.22 L112.14,125.08 L112.43,126.92 L112.72,128.74 L113.02,130.55 L113.31,132.33 L113.60,134.10 L113.89,135.86 L114.19,137.60 L114.48,139.32 L114.77,141.03 L115.06,142.72 L115.36,144.40 L115.65,146.06 L115.94,147.71 L116.23,149.34 L116.53,150.96 L116.82,152.57 L117.11,154.16 L117.40,155.74 L117.70,157.30 L117.99,158.85 L118.28,160.39 L118.57,161.92 L118.87,163.43 L119.16,164.93 L119.45,166.42 L119.75,167.89 L120.04,169.35 L120.33,170.80 L120.62,172.23 L120.92,173.65 L121.21,175.06 L121.50,176.46 L121.94,178.52 L122.38,180.56 L122.82,182.57 L123.26,184.55 L123.69,186.50 L124.13,188.42 L124.57,190.30 L125.01,192.16 L125.45,193.98 L125.89,195.77 L126.33,197.53 L126.77,199.26 L127.21,200.95 L127.64,202.62 L128.08,204.25 L128.52,205.85 L128.96,207.41 L129.40,208.95 L129.84,210.45 L130.28,211.92 L130.72,213.36 L131.16,214.77 L131.59,216.14 L132.03,217.49 L132.62,219.24 L133.20,220.95 L133.79,222.60 L134.37,224.21 L134.96,225.77 L135.54,227.28 L136.13,228.76 L136.71,230.20 L137.30,231.60 L137.88,232.96 L138.47,234.29 L139.06,235.59 L139.79,237.17 L140.52,238.71 L141.25,240.21 L141.98,241.67 L142.71,243.10 L143.44,244.50 L144.18,245.86 L144.91,247.20 L145.64,248.52 L146.37,249.81 L147.10,251.08 L147.83,252.33 L148.56,253.57 L149.30,254.78 L150.17,256.22 L151.05,257.64 L151.93,259.04 L152.81,260.42 L153.68,261.78 L154.56,263.12 L155.44,264.45 L156.32,265.77 L157.19,267.07 L158.07,268.35 L158.95,269.63 L159.83,270.89 L160.71,272.14 L161.58,273.38 L162.46,274.61 L163.34,275.83 L164.22,277.03 L165.09,278.23 L165.97,279.42 L166.85,280.59 L167.73,281.76 L168.61,282.92 L169.48,284.07 L170.36,285.21 L171.24,286.34 L172.12,287.46 L172.99,288.58 L174.02,289.87 L175.04,291.14 L176.07,292.41 L177.09,293.67 L178.11,294.92 L179.14,296.16 L180.16,297.39 L181.19,298.61 L182.21,299.82 L183.23,301.02 L184.26,302.21 L185.28,303.40 L186.31,304.57 L187.33,305.74 L188.35,306.90 L189.38,308.06 L190.40,309.20 L191.43,310.34 L192.45,311.47 L193.47,312.60 L194.50,313.72 L195.52,314.83 L196.55,315.93 L197.57,317.03 L198.59,318.13 L199.62,319.21 L200.64,320.29 L201.67,321.37 L202.69,322.44 L203.71,323.50 L204.74,324.56 L205.76,325.61 L206.79,326.66 L207.81,327.70 L208.83,328.73 L209.86,329.76 L210.88,330.78 L211.91,331.80 L212.93,332.81 L213.95,333.82 L214.98,334.82 L216.00,335.81 L217.03,336.80 L218.05,337.78 L219.08,338.76 L220.25,339.86 L221.42,340.96 L222.59,342.05 L223.76,343.13 L224.93,344.21 L226.10,345.27 L227.27,346.32 L228.44,347.36 L229.61,348.40 L230.78,349.42 L231.95,350.43 L233.12,351.43 L234.29,352.41 L235.46,353.39 L236.63,354.35 L237.80,355.30 L238.97,356.23 L240.14,357.15 L241.31,358.05 L242.48,358.94 L243.65,359.82 L244.82,360.67 L245.99,361.52 L247.16,362.34 L248.33,363.14 L249.65,364.03 L250.97,364.88 L252.28,365.72 L253.60,366.52 L254.92,367.30 L256.23,368.06 L257.55,368.78 L258.87,369.47 L260.18,370.13 L261.50,370.77 L262.82,371.37 L264.13,371.93 L265.45,372.47 L266.91,373.02 L268.37,373.53 L269.84,373.99 L271.30,374.41 L272.76,374.78 L274.23,375.11 L275.69,375.39 L277.15,375.62 L278.61,375.80 L280.08,375.92 L281.54,376.00 L283.00,376.03 L284.47,376.00 L285.93,375.92 L287.39,375.79 L288.85,375.60 L290.32,375.36 L291.78,375.07 L293.24,374.71 L294.71,374.31 L296.17,373.85 L297.63,373.33 L299.10,372.75 L300.41,372.19 L301.73,371.58 L303.04,370.93 L304.36,370.24 L305.68,369.50 L306.99,368.71 L308.31,367.89 L309.63,367.02 L310.80,366.22 L311.97,365.38 L313.14,364.51 L314.31,363.61 L315.48,362.68 L316.65,361.72 L317.82,360.73 L318.99,359.72 L320.16,358.68 L321.33,357.61 L322.50,356.51 L323.53,355.53 L324.55,354.53 L325.57,353.52 L326.60,352.48 L327.62,351.43 L328.65,350.37 L329.67,349.28 L330.69,348.19 L331.72,347.07 L332.74,345.95 L333.77,344.80 L334.79,343.65 L335.81,342.48 L336.84,341.30 L337.86,340.11 L338.89,338.90 L339.91,337.68 L340.93,336.46 L341.96,335.22 L342.98,333.97 L344.01,332.71 L345.03,331.44 L346.05,330.17 L347.08,328.88 L348.10,327.59 L348.98,326.47 L349.86,325.35 L350.73,324.23 L351.61,323.09 L352.49,321.96 L353.37,320.81 L354.25,319.67 L355.12,318.51 L356.00,317.36 L356.88,316.19 L357.76,315.03 L358.63,313.86 L359.51,312.68 L360.39,311.50 L361.27,310.32 L362.15,309.13 L363.02,307.94 L363.90,306.75 L364.78,305.55 L365.66,304.35 L366.53,303.15 L367.41,301.94 L368.29,300.73 L369.17,299.52 L370.05,298.30 L370.92,297.08 L371.80,295.86 L372.68,294.63 L373.56,293.41 L374.43,292.17 L375.31,290.94 L376.19,289.71 L377.07,288.47 L377.94,287.23 L378.82,285.98 L379.70,284.74 L380.58,283.49 L381.46,282.24 L382.33,280.99 L383.21,279.74 L384.09,278.48 L384.97,277.22 L385.84,275.96 L386.72,274.70 L387.60,273.44 L388.48,272.17 L389.36,270.90 L390.23,269.63 L391.11,268.36 L391.99,267.09 L392.87,265.81 L393.74,264.54 L394.62,263.26 L395.50,261.98 L396.38,260.70 L397.25,259.41 L398.13,258.13 L399.01,256.84 L399.89,255.55 L400.77,254.26 L401.64,252.97 L402.52,251.68 L403.40,250.39 L404.28,249.09 L405.15,247.79 L406.03,246.50 L406.91,245.20 L407.79,243.90 L408.67,242.59 L409.54,241.29 L410.42,239.98 L411.30,238.68 L412.18,237.37 L413.05,236.06 L413.93,234.75 L414.81,233.44 L415.69,232.12 L416.56,230.81 L417.44,229.49 L418.32,228.17 L419.20,226.86 L420.08,225.54 L420.95,224.21 L421.83,222.89 L422.71,221.57 L423.59,220.24 L424.46,218.92 L425.34,217.59 L426.22,216.26 L427.10,214.93 L427.98,213.60 L428.85,212.26 L429.73,210.93 L430.61,209.59 L431.49,208.25 L432.36,206.91 L433.24,205.57 L434.12,204.23 L435.00,202.89 L435.88,201.54 L436.75,200.20 L437.63,198.85 L438.51,197.50 L439.39,196.15 L440.26,194.80 L441.14,193.44 L442.02,192.08 L442.90,190.73 L443.77,189.37 L444.65,188.00 L445.53,186.64 L446.41,185.27 L447.29,183.91 L448.16,182.54 L449.04,181.16 L449.92,179.79 L450.80,178.41 L451.67,177.03 L452.55,175.65 L453.43,174.26 L454.31,172.88 L455.19,171.48 L456.06,170.09 L456.94,168.69 L457.82,167.29 L458.70,165.89 L459.57,164.48 L460.45,163.07 L461.33,161.65 L462.21,160.23 L463.08,158.81 L463.96,157.38 L464.84,155.94 L465.72,154.50 L466.60,153.06 L467.47,151.61 L468.20,150.39 L468.94,149.17 L469.67,147.95 L470.40,146.72 L471.13,145.49 L471.86,144.25 L472.59,143.00 L473.32,141.75 L474.06,140.49 L474.79,139.23 L475.52,137.96 L476.25,136.68 L476.98,135.40 L477.71,134.10 L478.45,132.80 L479.18,131.49 L479.91,130.17 L480.64,128.84 L481.37,127.51 L482.10,126.16 L482.83,124.80 L483.57,123.43 L484.30,122.05 L485.03,120.66 L485.76,119.25 L486.49,117.83 L487.22,116.40 L487.95,114.96 L488.69,113.50 L489.42,112.03 L490.15,110.54 L490.88,109.04 L491.61,107.52 L492.34,105.98 L493.07,104.43 L493.81,102.86 L494.54,101.28 L495.27,99.67 L495.85,98.38 L496.44,97.07 L497.02,95.75 L497.61,94.42 L498.19,93.07 L498.78,91.72 L499.36,90.35 L499.95,88.97 L500.53,87.57 L501.12,86.16 L501.70,84.75 L502.14,83.67" stroke="#ffd300" stroke-dasharray="7.4,3.2"/>
</g>
<rect x="70.90" y="83.50" width="446.60" height="333.00" fill="none" stroke="#000" stroke-width="1.0"/>
<path d="M70.80,416.50v3.70M112.07,416.50v2.10M136.21,416.50v2.10M153.34,416.50v2.10M166.63,416.50v2.10M177.48,416.50v2.10M186.66,416.50v2.10M194.61,416.50v2.10M201.63,416.50v2.10M207.90,416.50v3.70M249.17,416.50v2.10M273.31,416.50v2.10M290.44,416.50v2.10M303.73,416.50v2.10M314.58,416.50v2.10M323.76,416.50v2.10M331.71,416.50v2.10M338.73,416.50v2.10M345.00,416.50v3.70M386.27,416.50v2.10M410.41,416.50v2.10M427.54,416.50v2.10M440.83,416.50v2.10M451.68,416.50v2.10M460.86,416.50v2.10M468.81,416.50v2.10M475.83,416.50v2.10M482.10,416.50v3.70M70.90,416.43h-2.10M70.90,413.34h-2.10M70.90,410.67h-2.10M70.90,408.31h-2.10M70.90,406.20h-3.70M70.90,392.32h-2.10M70.90,384.20h-2.10M70.90,378.45h-2.10M70.90,373.98h-2.10M70.90,370.33h-2.10M70.90,367.24h-2.10M70.90,364.57h-2.10M70.90,362.21h-2.10M70.90,360.10h-3.70M70.90,346.22h-2.10M70.90,338.10h-2.10M70.90,332.35h-2.10M70.90,327.88h-2.10M70.90,324.23h-2.10M70.90,321.14h-2.10M70.90,318.47h-2.10M70.90,316.11h-2.10M70.90,314.00h-3.70M70.90,300.12h-2.10M70.90,292.00h-2.10M70.90,286.25h-2.10M70.90,281.78h-2.10M70.90,278.13h-2.10M70.90,275.04h-2.10M70.90,272.37h-2.10M70.90,270.01h-2.10M70.90,267.90h-3.70M70.90,254.02h-2.10M70.90,245.90h-2.10M70.90,240.15h-2.10M70.90,235.68h-2.10M70.90,232.03h-2.10M70.90,228.94h-2.10M70.90,226.27h-2.10M70.90,223.91h-2.10M70.90,221.80h-3.70M70.90,207.92h-2.10M70.90,199.80h-2.10M70.90,194.05h-2.10M70.90,189.58h-2.10M70.90,185.93h-2.10M70.90,182.84h-2.10M70.90,180.17h-2.10M70.90,177.81h-2.10M70.90,175.70h-3.70M70.90,161.82h-2.10M70.90,153.70h-2.10M70.90,147.95h-2.10M70.90,143.48h-2.10M70.90,139.83h-2.10M70.90,136.74h-2.10M70.90,134.07h-2.10M70.90,131.71h-2.10M70.90,129.60h-3.70M70.90,115.72h-2.10M70.90,107.60h-2.10M70.90,101.85h-2.10M70.90,97.38h-2.10M70.90,93.73h-2.10M70.90,90.64h-2.10M70.90,87.97h-2.10M70.90,85.61h-2.10M70.90,83.50h-3.70" stroke="#000" stroke-width="1.1" fill="none"/>
<text x="36.34" y="88.80" font-size="14.80" textLength="14.86" lengthAdjust="spacingAndGlyphs">10</text>
<text x="51.17" y="83.90" font-size="10.00" textLength="13.39" lengthAdjust="spacingAndGlyphs">−6</text>
<text x="36.34" y="134.90" font-size="14.80" textLength="14.86" lengthAdjust="spacingAndGlyphs">10</text>
<text x="51.17" y="130.00" font-size="10.00" textLength="13.39" lengthAdjust="spacingAndGlyphs">−7</text>
<text x="36.34" y="181.00" font-size="14.80" textLength="14.86" lengthAdjust="spacingAndGlyphs">10</text>
<text x="51.16" y="176.10" font-size="10.00" textLength="13.53" lengthAdjust="spacingAndGlyphs">−8</text>
<text x="36.34" y="227.10" font-size="14.80" textLength="14.86" lengthAdjust="spacingAndGlyphs">10</text>
<text x="51.16" y="222.20" font-size="10.00" textLength="13.53" lengthAdjust="spacingAndGlyphs">−9</text>
<text x="31.54" y="273.20" font-size="14.80" textLength="14.86" lengthAdjust="spacingAndGlyphs">10</text>
<text x="46.42" y="268.30" font-size="10.00" textLength="18.24" lengthAdjust="spacingAndGlyphs">−10</text>
<text x="31.54" y="319.30" font-size="14.80" textLength="14.86" lengthAdjust="spacingAndGlyphs">10</text>
<text x="46.39" y="314.40" font-size="10.00" textLength="18.56" lengthAdjust="spacingAndGlyphs">−11</text>
<text x="31.54" y="365.40" font-size="14.80" textLength="14.86" lengthAdjust="spacingAndGlyphs">10</text>
<text x="46.41" y="360.50" font-size="10.00" textLength="18.43" lengthAdjust="spacingAndGlyphs">−12</text>
<text x="31.54" y="411.50" font-size="14.80" textLength="14.86" lengthAdjust="spacingAndGlyphs">10</text>
<text x="46.42" y="406.60" font-size="10.00" textLength="18.24" lengthAdjust="spacingAndGlyphs">−13</text>
<text x="61.41" y="433.20" font-size="14.80" textLength="13.94" lengthAdjust="spacingAndGlyphs">10</text>
<text x="75.32" y="428.00" font-size="10.00" textLength="5.95" lengthAdjust="spacingAndGlyphs">0</text>
<text x="199.76" y="433.20" font-size="14.80" textLength="13.94" lengthAdjust="spacingAndGlyphs">10</text>
<text x="213.55" y="428.00" font-size="10.00" textLength="3.52" lengthAdjust="spacingAndGlyphs">1</text>
<text x="335.61" y="433.20" font-size="14.80" textLength="13.94" lengthAdjust="spacingAndGlyphs">10</text>
<text x="349.44" y="428.00" font-size="10.00" textLength="6.25" lengthAdjust="spacingAndGlyphs">2</text>
<text x="472.71" y="433.20" font-size="14.80" textLength="13.94" lengthAdjust="spacingAndGlyphs">10</text>
<text x="486.56" y="428.00" font-size="10.00" textLength="6.02" lengthAdjust="spacingAndGlyphs">3</text>
<text x="271.55" y="455.10" font-size="20.00" textLength="6.93" lengthAdjust="spacingAndGlyphs" font-style="italic">f</text>
<text x="286.13" y="455.10" font-size="20.00" textLength="31.10" lengthAdjust="spacingAndGlyphs">[Hz]</text>
<g transform="rotate(-90)"><text x="-293.65" y="23.20" font-size="20.00" textLength="12.12" lengthAdjust="spacingAndGlyphs" font-style="italic">h</text><text x="-283.15" y="13.50" font-size="13.50" textLength="7.25" lengthAdjust="spacingAndGlyphs">2</text><text x="-272.86" y="23.20" font-size="20.00" textLength="12.77" lengthAdjust="spacingAndGlyphs">Ω</text><text x="-258.44" y="26.40" font-size="13.50" textLength="25.37" lengthAdjust="spacingAndGlyphs">PLS</text><text x="-231.69" y="23.20" font-size="20.00" textLength="5.88" lengthAdjust="spacingAndGlyphs">(</text><text x="-225.25" y="23.20" font-size="20.00" textLength="6.93" lengthAdjust="spacingAndGlyphs" font-style="italic">f</text><text x="-214.09" y="23.20" font-size="20.00" textLength="6.53" lengthAdjust="spacingAndGlyphs">)</text></g>
<rect x="71.1" y="10.4" width="437" height="59" rx="4.5" fill="#b2b2b2"/>
<rect x="68.1" y="7.3" width="437" height="59" rx="4.5" fill="#fff" stroke="#cfcfcf" stroke-width="1.1"/>
<path d="M75.0,22.4H117.0" stroke="#2ca02c" stroke-width="2.3"/>
<path d="M131.40,14.80 L125.00,28.90 L138.50,28.90Z M131.06,17.36 L126.37,27.70 L136.27,27.70Z" fill="#000" fill-rule="evenodd"/>
<text x="142.37" y="28.70" font-size="19.50" textLength="43.57" lengthAdjust="spacingAndGlyphs">10km</text>
<path d="M75.0,48.4H117.0" stroke="#d62728" stroke-width="2.3"/>
<path d="M131.40,40.60 L125.00,54.70 L138.50,54.70Z M131.06,43.16 L126.37,53.50 L136.27,53.50Z" fill="#000" fill-rule="evenodd"/>
<text x="142.37" y="54.50" font-size="19.50" textLength="43.57" lengthAdjust="spacingAndGlyphs">15km</text>
<path d="M201.4,22.4H243.4" stroke="#1f77b4" stroke-width="2.3"/>
<text x="249.18" y="28.90" font-size="19.50" textLength="96.24" lengthAdjust="spacingAndGlyphs">2L 45° 15km</text>
<path d="M201.4,48.4H243.4" stroke="#9467bd" stroke-width="2.3"/>
<text x="249.18" y="54.70" font-size="19.50" textLength="96.24" lengthAdjust="spacingAndGlyphs">2L 45° 20km</text>
<path d="M361.4,22.4H403.4" stroke="#ff7f0e" stroke-width="2.3"/>
<text x="408.96" y="28.90" font-size="19.50" textLength="88.76" lengthAdjust="spacingAndGlyphs">2L 0° 15km</text>
<path d="M361.4,48.4H403.4" stroke="#ffd300" stroke-width="2.3"/>
<text x="408.96" y="54.70" font-size="19.50" textLength="88.76" lengthAdjust="spacingAndGlyphs">2L 0° 20km</text>
<rect x="353.4" y="348.4" width="154.2" height="58" rx="4.5" fill="#fff" fill-opacity="0.8" stroke="#d0d0d0" stroke-width="1.1"/>
<path d="M358.4,361.7H400" stroke="#656565" stroke-width="1.8"/>
<path d="M358.4,389.3H400" stroke="#656565" stroke-width="1.8" stroke-dasharray="5.8,2.3"/>
<text x="415.12" y="368.90" font-size="20.00" textLength="86.29" lengthAdjust="spacingAndGlyphs">HFLF cryo</text>
<text x="415.13" y="396.90" font-size="20.00" textLength="63.29" lengthAdjust="spacingAndGlyphs">HF only</text>
</svg></body></html>
